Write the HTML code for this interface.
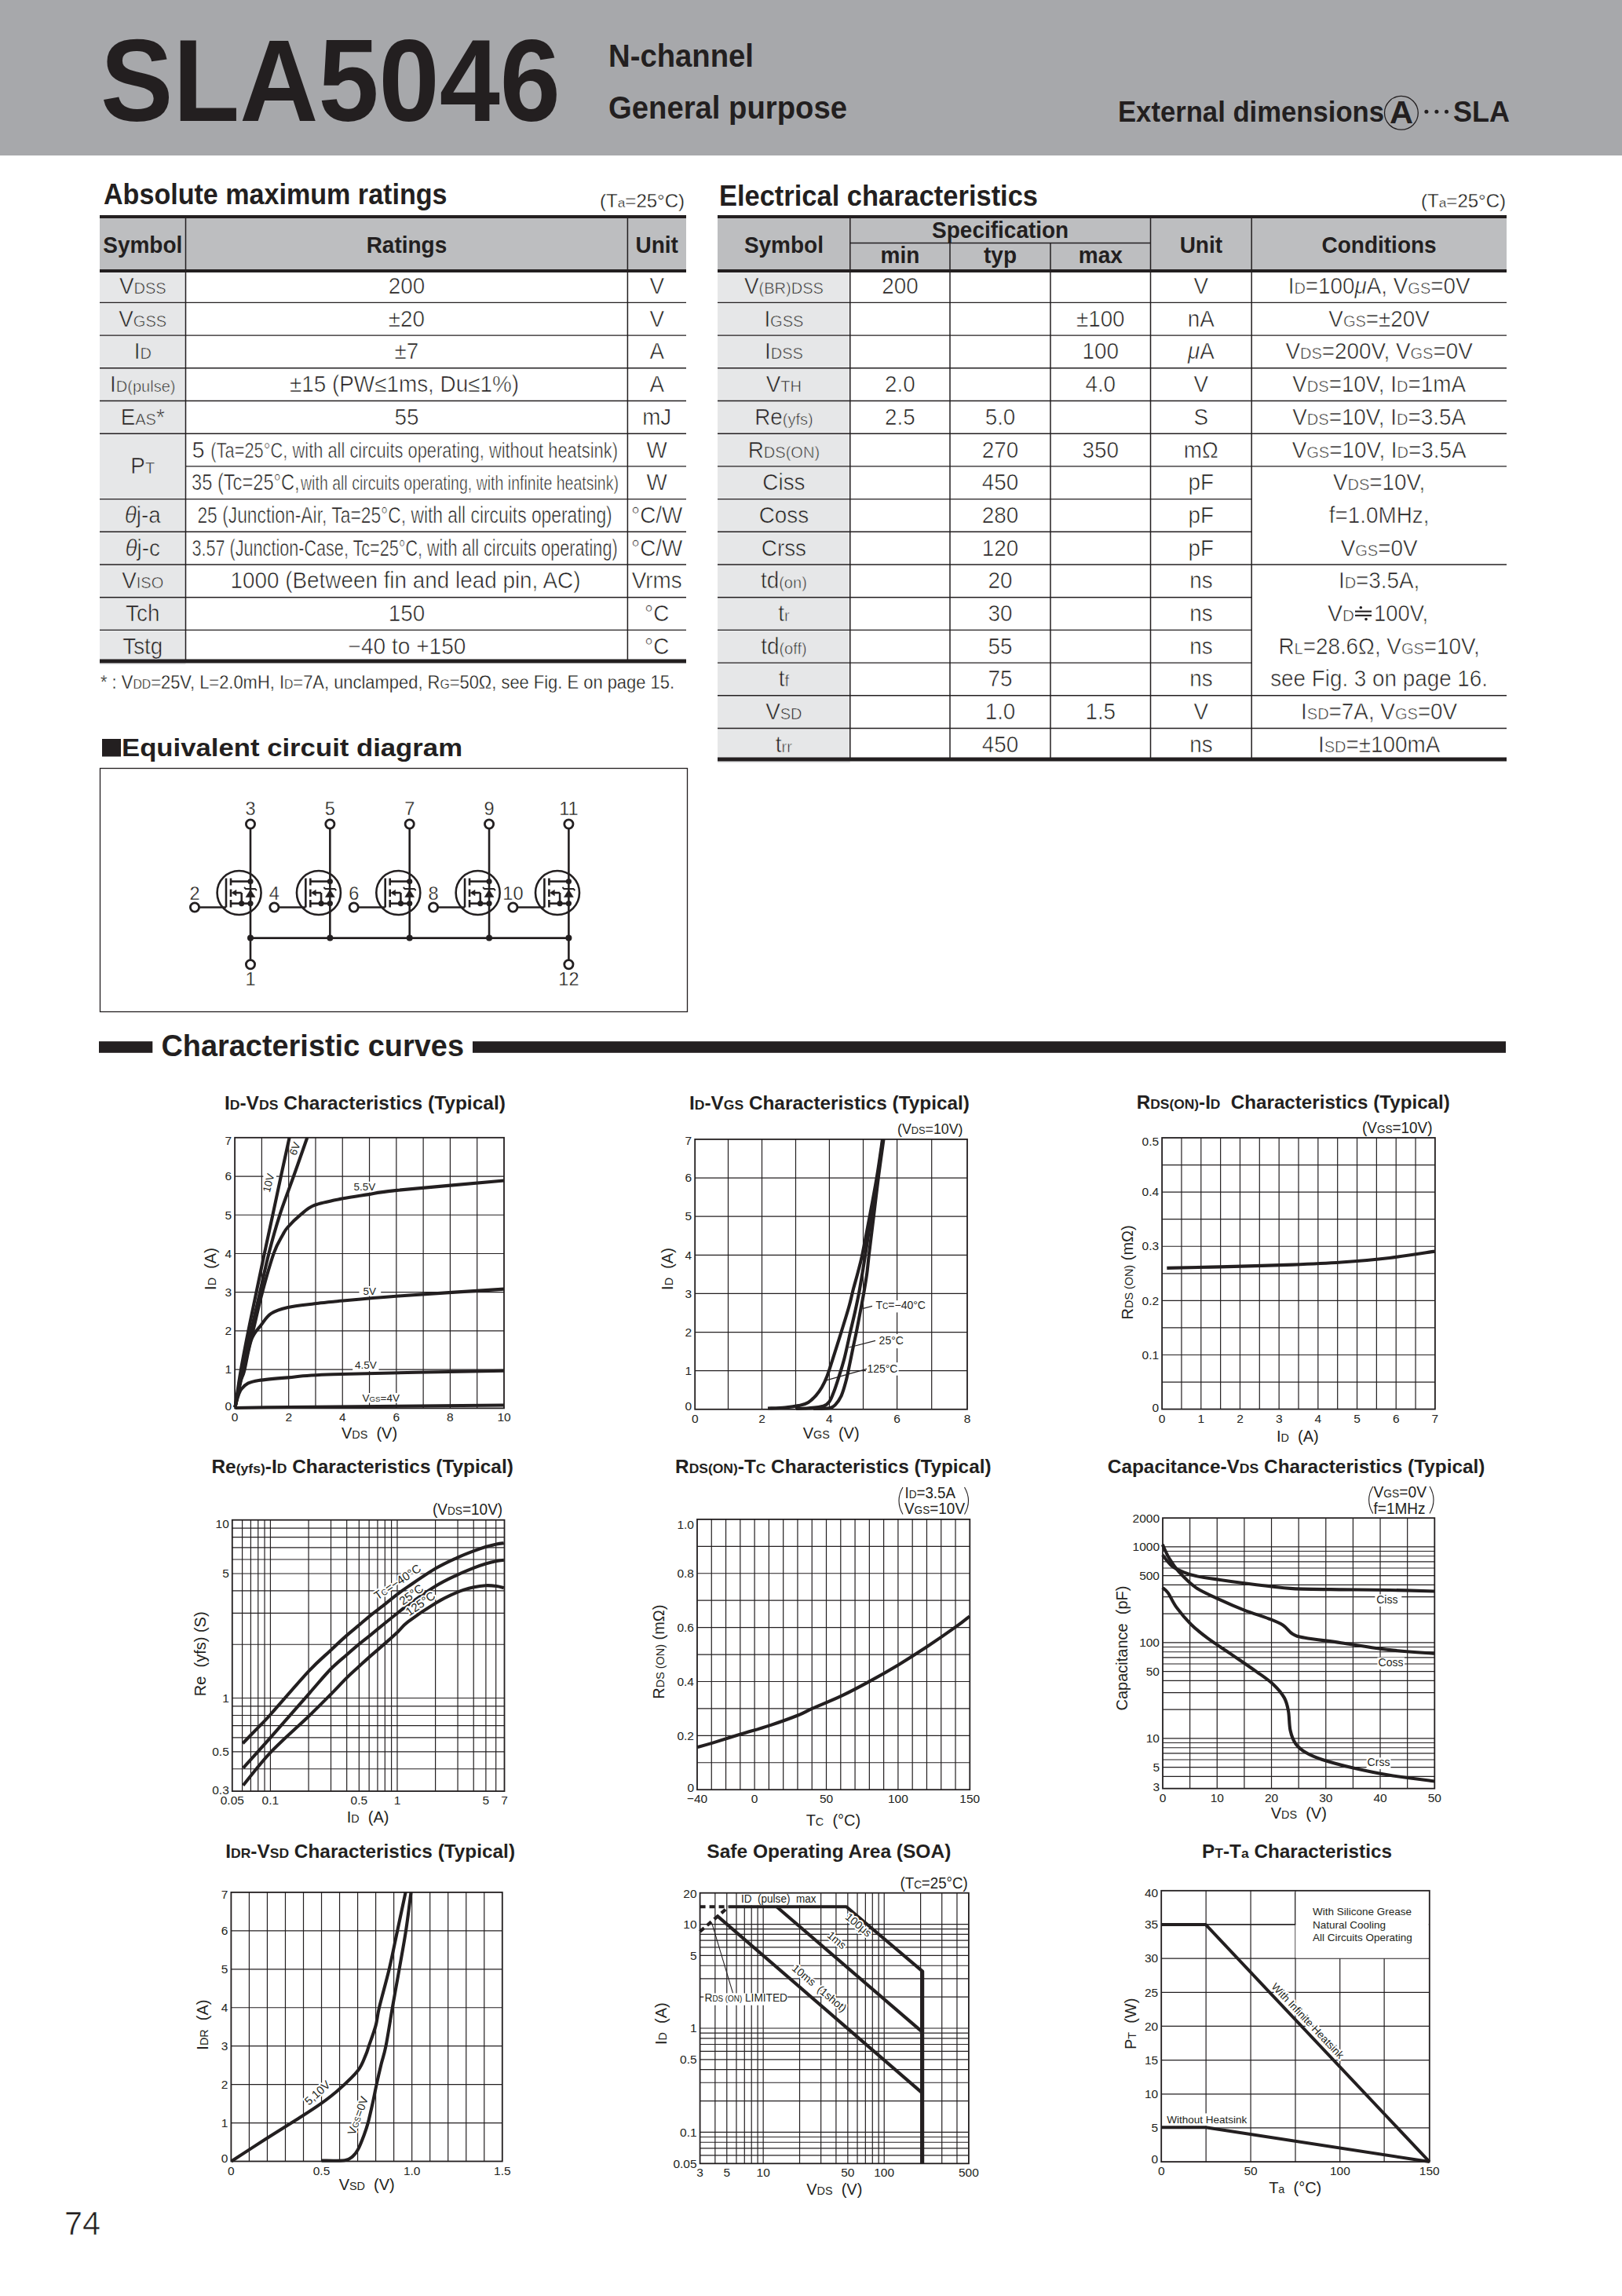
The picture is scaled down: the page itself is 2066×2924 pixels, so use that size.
<!DOCTYPE html><html><head><meta charset="utf-8"><style>html,body{margin:0;padding:0;background:#fff}svg{display:block}text{font-family:"Liberation Sans",sans-serif}</style></head><body><svg width="2066" height="2924" viewBox="0 0 2066 2924"><rect x="0.0" y="0.0" width="2066.0" height="198.0" fill="#a7a8ab"/>
<text x="128.0" y="154.0" font-size="149.00" font-weight="bold" textLength="586.0" lengthAdjust="spacingAndGlyphs" fill="#231f20" >SLA5046</text>
<text x="775.0" y="84.7" font-size="40.20" font-weight="bold" textLength="185.0" lengthAdjust="spacingAndGlyphs" fill="#231f20" >N-channel</text>
<text x="775.0" y="151.0" font-size="40.00" font-weight="bold" textLength="304.0" lengthAdjust="spacingAndGlyphs" fill="#231f20" >General purpose</text>
<text x="1424.0" y="155.0" font-size="36.60" font-weight="bold" textLength="339.0" lengthAdjust="spacingAndGlyphs" fill="#231f20" >External dimensions</text>
<text x="1785.0" y="157.4" font-size="40.00" text-anchor="middle" font-weight="bold" textLength="30.0" lengthAdjust="spacingAndGlyphs" fill="#231f20" >A</text>
<circle cx="1784.9" cy="143.8" r="21.4" fill="none" stroke="#231f20" stroke-width="1.3"/>
<circle cx="1816.9" cy="142.3" r="2.5" fill="#231f20"/>
<circle cx="1829.9" cy="142.3" r="2.5" fill="#231f20"/>
<circle cx="1842.5" cy="142.3" r="2.5" fill="#231f20"/>
<text x="1851.0" y="155.0" font-size="36.60" font-weight="bold" textLength="72.0" lengthAdjust="spacingAndGlyphs" fill="#231f20" >SLA</text>
<text x="132.0" y="260.0" font-size="36.00" font-weight="bold" textLength="437.5" lengthAdjust="spacingAndGlyphs" fill="#231f20" >Absolute maximum ratings</text>
<text x="872.0" y="264.0" font-size="24.00" text-anchor="end" fill="#231f20"  stroke="#fff" stroke-width="0.30">(T<tspan font-size="17.28">a</tspan>=25°C)</text>
<rect x="127.0" y="278.0" width="747.0" height="66.0" fill="#bdbec0"/>
<rect x="127.0" y="346.0" width="109.5" height="500.4" fill="#e6e7e8"/>
<line x1="127.00" y1="276.00" x2="874.00" y2="276.00" stroke="#231f20" stroke-width="4.00" />
<line x1="127.00" y1="345.00" x2="874.00" y2="345.00" stroke="#231f20" stroke-width="4.00" />
<line x1="127.00" y1="385.40" x2="874.00" y2="385.40" stroke="#231f20" stroke-width="1.40" />
<line x1="127.00" y1="427.10" x2="874.00" y2="427.10" stroke="#231f20" stroke-width="1.40" />
<line x1="127.00" y1="468.80" x2="874.00" y2="468.80" stroke="#231f20" stroke-width="1.40" />
<line x1="127.00" y1="510.50" x2="874.00" y2="510.50" stroke="#231f20" stroke-width="1.40" />
<line x1="127.00" y1="552.20" x2="874.00" y2="552.20" stroke="#231f20" stroke-width="1.40" />
<line x1="236.50" y1="593.90" x2="874.00" y2="593.90" stroke="#231f20" stroke-width="1.40" />
<line x1="127.00" y1="635.60" x2="874.00" y2="635.60" stroke="#231f20" stroke-width="1.40" />
<line x1="127.00" y1="677.30" x2="874.00" y2="677.30" stroke="#231f20" stroke-width="1.40" />
<line x1="127.00" y1="719.00" x2="874.00" y2="719.00" stroke="#231f20" stroke-width="1.40" />
<line x1="127.00" y1="760.70" x2="874.00" y2="760.70" stroke="#231f20" stroke-width="1.40" />
<line x1="127.00" y1="802.40" x2="874.00" y2="802.40" stroke="#231f20" stroke-width="1.40" />
<line x1="127.00" y1="842.00" x2="874.00" y2="842.00" stroke="#231f20" stroke-width="5.00" />
<line x1="236.50" y1="278.00" x2="236.50" y2="840.00" stroke="#231f20" stroke-width="1.50" />
<line x1="799.40" y1="278.00" x2="799.40" y2="840.00" stroke="#231f20" stroke-width="1.50" />
<text transform="translate(181.75 322.30) scale(0.9650 1)" font-size="29.00" text-anchor="middle" font-weight="bold" fill="#231f20" >Symbol</text>
<text transform="translate(517.95 322.30) scale(0.9650 1)" font-size="29.00" text-anchor="middle" font-weight="bold" fill="#231f20" >Ratings</text>
<text transform="translate(836.70 322.30) scale(0.9650 1)" font-size="29.00" text-anchor="middle" font-weight="bold" fill="#231f20" >Unit</text>
<text transform="translate(181.75 374.00) scale(0.9600 1)" font-size="29.00" text-anchor="middle" fill="#231f20"  stroke="#e6e7e8" stroke-width="0.60">V<tspan font-size="20.88">DSS</tspan></text>
<text transform="translate(517.95 374.00) scale(0.9600 1)" font-size="29.00" text-anchor="middle" fill="#231f20"  stroke="#fff" stroke-width="0.60">200</text>
<text transform="translate(836.70 374.00) scale(0.9600 1)" font-size="29.00" text-anchor="middle" fill="#231f20"  stroke="#fff" stroke-width="0.60">V</text>
<text transform="translate(181.75 415.70) scale(0.9600 1)" font-size="29.00" text-anchor="middle" fill="#231f20"  stroke="#e6e7e8" stroke-width="0.60">V<tspan font-size="20.88">GSS</tspan></text>
<text transform="translate(517.95 415.70) scale(0.9600 1)" font-size="29.00" text-anchor="middle" fill="#231f20"  stroke="#fff" stroke-width="0.60">±20</text>
<text transform="translate(836.70 415.70) scale(0.9600 1)" font-size="29.00" text-anchor="middle" fill="#231f20"  stroke="#fff" stroke-width="0.60">V</text>
<text transform="translate(181.75 457.40) scale(0.9600 1)" font-size="29.00" text-anchor="middle" fill="#231f20"  stroke="#e6e7e8" stroke-width="0.60">I<tspan font-size="20.88">D</tspan></text>
<text transform="translate(517.95 457.40) scale(0.9600 1)" font-size="29.00" text-anchor="middle" fill="#231f20"  stroke="#fff" stroke-width="0.60">±7</text>
<text transform="translate(836.70 457.40) scale(0.9600 1)" font-size="29.00" text-anchor="middle" fill="#231f20"  stroke="#fff" stroke-width="0.60">A</text>
<text transform="translate(181.75 499.10) scale(0.9600 1)" font-size="29.00" text-anchor="middle" fill="#231f20"  stroke="#e6e7e8" stroke-width="0.60">I<tspan font-size="20.88">D(pulse)</tspan></text>
<text x="369.0" y="499.1" font-size="29.00" textLength="292.0" lengthAdjust="spacingAndGlyphs" fill="#231f20"  stroke="#fff" stroke-width="0.60">±15 (PW≤1ms, Du≤1%)</text>
<text transform="translate(836.70 499.10) scale(0.9600 1)" font-size="29.00" text-anchor="middle" fill="#231f20"  stroke="#fff" stroke-width="0.60">A</text>
<text transform="translate(181.75 540.80) scale(0.9600 1)" font-size="29.00" text-anchor="middle" fill="#231f20"  stroke="#e6e7e8" stroke-width="0.60">E<tspan font-size="20.88">AS</tspan>*</text>
<text transform="translate(517.95 540.80) scale(0.9600 1)" font-size="29.00" text-anchor="middle" fill="#231f20"  stroke="#fff" stroke-width="0.60">55</text>
<text transform="translate(836.70 540.80) scale(0.9600 1)" font-size="29.00" text-anchor="middle" fill="#231f20"  stroke="#fff" stroke-width="0.60">mJ</text>
<text x="244.5" y="582.5" font-size="29.00" fill="#231f20"  stroke="#fff" stroke-width="0.60">5</text>
<text x="268.3" y="582.5" font-size="27.00" textLength="518.7" lengthAdjust="spacingAndGlyphs" fill="#231f20"  stroke="#fff" stroke-width="0.60">(Ta=25°C, with all circuits operating, without heatsink)</text>
<text transform="translate(836.70 582.50) scale(0.9600 1)" font-size="29.00" text-anchor="middle" fill="#231f20"  stroke="#fff" stroke-width="0.60">W</text>
<text x="244.0" y="624.2" font-size="29.00" textLength="137.7" lengthAdjust="spacingAndGlyphs" fill="#231f20"  stroke="#fff" stroke-width="0.60">35 (Tc=25°C,</text>
<text x="383.0" y="624.2" font-size="26.00" textLength="405.0" lengthAdjust="spacingAndGlyphs" fill="#231f20"  stroke="#fff" stroke-width="0.60">with all circuits operating, with infinite heatsink)</text>
<text transform="translate(836.70 624.20) scale(0.9600 1)" font-size="29.00" text-anchor="middle" fill="#231f20"  stroke="#fff" stroke-width="0.60">W</text>
<text transform="translate(181.75 665.90) scale(0.9600 1)" font-size="29.00" text-anchor="middle" fill="#231f20"  stroke="#e6e7e8" stroke-width="0.60"><tspan font-style="italic">θ</tspan>j-a</text>
<text x="251.4" y="665.9" font-size="29.00" textLength="528.3" lengthAdjust="spacingAndGlyphs" fill="#231f20"  stroke="#fff" stroke-width="0.60">25 (Junction-Air, Ta=25°C, with all circuits operating)</text>
<text transform="translate(836.70 665.90) scale(0.9600 1)" font-size="29.00" text-anchor="middle" fill="#231f20"  stroke="#fff" stroke-width="0.60">°C/W</text>
<text transform="translate(181.75 707.60) scale(0.9600 1)" font-size="29.00" text-anchor="middle" fill="#231f20"  stroke="#e6e7e8" stroke-width="0.60"><tspan font-style="italic">θ</tspan>j-c</text>
<text x="244.5" y="707.6" font-size="29.00" textLength="542.1" lengthAdjust="spacingAndGlyphs" fill="#231f20"  stroke="#fff" stroke-width="0.60">3.57 (Junction-Case, Tc=25°C, with all circuits operating)</text>
<text transform="translate(836.70 707.60) scale(0.9600 1)" font-size="29.00" text-anchor="middle" fill="#231f20"  stroke="#fff" stroke-width="0.60">°C/W</text>
<text transform="translate(181.75 749.30) scale(0.9600 1)" font-size="29.00" text-anchor="middle" fill="#231f20"  stroke="#e6e7e8" stroke-width="0.60">V<tspan font-size="20.88">ISO</tspan></text>
<text x="293.5" y="749.3" font-size="29.00" textLength="446.0" lengthAdjust="spacingAndGlyphs" fill="#231f20"  stroke="#fff" stroke-width="0.60">1000 (Between fin and lead pin, AC)</text>
<text transform="translate(836.70 749.30) scale(0.9600 1)" font-size="29.00" text-anchor="middle" fill="#231f20"  stroke="#fff" stroke-width="0.60">Vrms</text>
<text transform="translate(181.75 791.00) scale(0.9600 1)" font-size="29.00" text-anchor="middle" fill="#231f20"  stroke="#e6e7e8" stroke-width="0.60">Tch</text>
<text transform="translate(517.95 791.00) scale(0.9600 1)" font-size="29.00" text-anchor="middle" fill="#231f20"  stroke="#fff" stroke-width="0.60">150</text>
<text transform="translate(836.70 791.00) scale(0.9600 1)" font-size="29.00" text-anchor="middle" fill="#231f20"  stroke="#fff" stroke-width="0.60">°C</text>
<text transform="translate(181.75 832.70) scale(0.9600 1)" font-size="29.00" text-anchor="middle" fill="#231f20"  stroke="#e6e7e8" stroke-width="0.60">Tstg</text>
<text x="443.5" y="832.7" font-size="29.00" textLength="150.0" lengthAdjust="spacingAndGlyphs" fill="#231f20"  stroke="#fff" stroke-width="0.60">−40 to +150</text>
<text transform="translate(836.70 832.70) scale(0.9600 1)" font-size="29.00" text-anchor="middle" fill="#231f20"  stroke="#fff" stroke-width="0.60">°C</text>
<text transform="translate(181.75 603.35) scale(0.9600 1)" font-size="29.00" text-anchor="middle" fill="#231f20"  stroke="#e6e7e8" stroke-width="0.60">P<tspan font-size="20.88">T</tspan></text>
<text x="128.0" y="877.0" font-size="24.00" textLength="731.0" lengthAdjust="spacingAndGlyphs" fill="#231f20"  stroke="#fff" stroke-width="0.30">* : V<tspan font-size="17.28">DD</tspan>=25V, L=2.0mH, I<tspan font-size="17.28">D</tspan>=7A, unclamped, R<tspan font-size="17.28">G</tspan>=50Ω, see Fig. E on page 15.</text>
<text x="916.0" y="262.0" font-size="36.00" font-weight="bold" textLength="406.0" lengthAdjust="spacingAndGlyphs" fill="#231f20" >Electrical characteristics</text>
<text x="1918.0" y="264.0" font-size="24.00" text-anchor="end" fill="#231f20"  stroke="#fff" stroke-width="0.30">(T<tspan font-size="17.28">a</tspan>=25°C)</text>
<rect x="914.0" y="278.0" width="1005.0" height="66.0" fill="#bdbec0"/>
<rect x="914.0" y="346.0" width="168.8" height="625.5" fill="#e6e7e8"/>
<line x1="914.00" y1="276.00" x2="1919.00" y2="276.00" stroke="#231f20" stroke-width="4.00" />
<line x1="914.00" y1="345.00" x2="1919.00" y2="345.00" stroke="#231f20" stroke-width="4.00" />
<line x1="1082.80" y1="309.50" x2="1465.50" y2="309.50" stroke="#231f20" stroke-width="1.40" />
<line x1="914.00" y1="385.40" x2="1919.00" y2="385.40" stroke="#231f20" stroke-width="1.40" />
<line x1="914.00" y1="427.10" x2="1919.00" y2="427.10" stroke="#231f20" stroke-width="1.40" />
<line x1="914.00" y1="468.80" x2="1919.00" y2="468.80" stroke="#231f20" stroke-width="1.40" />
<line x1="914.00" y1="510.50" x2="1919.00" y2="510.50" stroke="#231f20" stroke-width="1.40" />
<line x1="914.00" y1="552.20" x2="1919.00" y2="552.20" stroke="#231f20" stroke-width="1.40" />
<line x1="914.00" y1="593.90" x2="1919.00" y2="593.90" stroke="#231f20" stroke-width="1.40" />
<line x1="914.00" y1="635.60" x2="1594.20" y2="635.60" stroke="#231f20" stroke-width="1.40" />
<line x1="914.00" y1="677.30" x2="1594.20" y2="677.30" stroke="#231f20" stroke-width="1.40" />
<line x1="914.00" y1="719.00" x2="1919.00" y2="719.00" stroke="#231f20" stroke-width="1.40" />
<line x1="914.00" y1="760.70" x2="1594.20" y2="760.70" stroke="#231f20" stroke-width="1.40" />
<line x1="914.00" y1="802.40" x2="1594.20" y2="802.40" stroke="#231f20" stroke-width="1.40" />
<line x1="914.00" y1="844.10" x2="1594.20" y2="844.10" stroke="#231f20" stroke-width="1.40" />
<line x1="914.00" y1="885.80" x2="1919.00" y2="885.80" stroke="#231f20" stroke-width="1.40" />
<line x1="914.00" y1="927.50" x2="1919.00" y2="927.50" stroke="#231f20" stroke-width="1.40" />
<line x1="914.00" y1="967.00" x2="1919.00" y2="967.00" stroke="#231f20" stroke-width="5.00" />
<line x1="1082.80" y1="278.00" x2="1082.80" y2="965.00" stroke="#231f20" stroke-width="1.50" />
<line x1="1210.00" y1="309.50" x2="1210.00" y2="965.00" stroke="#231f20" stroke-width="1.50" />
<line x1="1338.00" y1="309.50" x2="1338.00" y2="965.00" stroke="#231f20" stroke-width="1.50" />
<line x1="1465.50" y1="278.00" x2="1465.50" y2="965.00" stroke="#231f20" stroke-width="1.50" />
<line x1="1594.20" y1="278.00" x2="1594.20" y2="965.00" stroke="#231f20" stroke-width="1.50" />
<text transform="translate(998.40 322.30) scale(0.9650 1)" font-size="29.00" text-anchor="middle" font-weight="bold" fill="#231f20" >Symbol</text>
<text transform="translate(1274.15 303.00) scale(0.9650 1)" font-size="29.00" text-anchor="middle" font-weight="bold" fill="#231f20" >Specification</text>
<text transform="translate(1146.40 335.00) scale(0.9650 1)" font-size="29.00" text-anchor="middle" font-weight="bold" fill="#231f20" >min</text>
<text transform="translate(1274.00 335.00) scale(0.9650 1)" font-size="29.00" text-anchor="middle" font-weight="bold" fill="#231f20" >typ</text>
<text transform="translate(1401.75 335.00) scale(0.9650 1)" font-size="29.00" text-anchor="middle" font-weight="bold" fill="#231f20" >max</text>
<text transform="translate(1529.85 322.30) scale(0.9650 1)" font-size="29.00" text-anchor="middle" font-weight="bold" fill="#231f20" >Unit</text>
<text transform="translate(1756.60 322.30) scale(0.9650 1)" font-size="29.00" text-anchor="middle" font-weight="bold" fill="#231f20" >Conditions</text>
<text transform="translate(998.40 374.00) scale(0.9600 1)" font-size="29.00" text-anchor="middle" fill="#231f20"  stroke="#e6e7e8" stroke-width="0.60">V<tspan font-size="20.88">(BR)DSS</tspan></text>
<text transform="translate(1146.40 374.00) scale(0.9600 1)" font-size="29.00" text-anchor="middle" fill="#231f20"  stroke="#fff" stroke-width="0.60">200</text>
<text transform="translate(1529.85 374.00) scale(0.9600 1)" font-size="29.00" text-anchor="middle" fill="#231f20"  stroke="#fff" stroke-width="0.60">V</text>
<text transform="translate(1756.60 374.00) scale(0.9600 1)" font-size="29.00" text-anchor="middle" fill="#231f20"  stroke="#fff" stroke-width="0.60">I<tspan font-size="20.88">D</tspan>=100<tspan font-style="italic">μ</tspan>A, V<tspan font-size="20.88">GS</tspan>=0V</text>
<text transform="translate(998.40 415.70) scale(0.9600 1)" font-size="29.00" text-anchor="middle" fill="#231f20"  stroke="#e6e7e8" stroke-width="0.60">I<tspan font-size="20.88">GSS</tspan></text>
<text transform="translate(1401.75 415.70) scale(0.9600 1)" font-size="29.00" text-anchor="middle" fill="#231f20"  stroke="#fff" stroke-width="0.60">±100</text>
<text transform="translate(1529.85 415.70) scale(0.9600 1)" font-size="29.00" text-anchor="middle" fill="#231f20"  stroke="#fff" stroke-width="0.60">nA</text>
<text transform="translate(1756.60 415.70) scale(0.9600 1)" font-size="29.00" text-anchor="middle" fill="#231f20"  stroke="#fff" stroke-width="0.60">V<tspan font-size="20.88">GS</tspan>=±20V</text>
<text transform="translate(998.40 457.40) scale(0.9600 1)" font-size="29.00" text-anchor="middle" fill="#231f20"  stroke="#e6e7e8" stroke-width="0.60">I<tspan font-size="20.88">DSS</tspan></text>
<text transform="translate(1401.75 457.40) scale(0.9600 1)" font-size="29.00" text-anchor="middle" fill="#231f20"  stroke="#fff" stroke-width="0.60">100</text>
<text transform="translate(1529.85 457.40) scale(0.9600 1)" font-size="29.00" text-anchor="middle" fill="#231f20"  stroke="#fff" stroke-width="0.60"><tspan font-style="italic">μ</tspan>A</text>
<text transform="translate(1756.60 457.40) scale(0.9600 1)" font-size="29.00" text-anchor="middle" fill="#231f20"  stroke="#fff" stroke-width="0.60">V<tspan font-size="20.88">DS</tspan>=200V, V<tspan font-size="20.88">GS</tspan>=0V</text>
<text transform="translate(998.40 499.10) scale(0.9600 1)" font-size="29.00" text-anchor="middle" fill="#231f20"  stroke="#e6e7e8" stroke-width="0.60">V<tspan font-size="20.88">TH</tspan></text>
<text transform="translate(1146.40 499.10) scale(0.9600 1)" font-size="29.00" text-anchor="middle" fill="#231f20"  stroke="#fff" stroke-width="0.60">2.0</text>
<text transform="translate(1401.75 499.10) scale(0.9600 1)" font-size="29.00" text-anchor="middle" fill="#231f20"  stroke="#fff" stroke-width="0.60">4.0</text>
<text transform="translate(1529.85 499.10) scale(0.9600 1)" font-size="29.00" text-anchor="middle" fill="#231f20"  stroke="#fff" stroke-width="0.60">V</text>
<text transform="translate(1756.60 499.10) scale(0.9600 1)" font-size="29.00" text-anchor="middle" fill="#231f20"  stroke="#fff" stroke-width="0.60">V<tspan font-size="20.88">DS</tspan>=10V, I<tspan font-size="20.88">D</tspan>=1mA</text>
<text transform="translate(998.40 540.80) scale(0.9600 1)" font-size="29.00" text-anchor="middle" fill="#231f20"  stroke="#e6e7e8" stroke-width="0.60">Re<tspan font-size="20.88">(yfs)</tspan></text>
<text transform="translate(1146.40 540.80) scale(0.9600 1)" font-size="29.00" text-anchor="middle" fill="#231f20"  stroke="#fff" stroke-width="0.60">2.5</text>
<text transform="translate(1274.00 540.80) scale(0.9600 1)" font-size="29.00" text-anchor="middle" fill="#231f20"  stroke="#fff" stroke-width="0.60">5.0</text>
<text transform="translate(1529.85 540.80) scale(0.9600 1)" font-size="29.00" text-anchor="middle" fill="#231f20"  stroke="#fff" stroke-width="0.60">S</text>
<text transform="translate(1756.60 540.80) scale(0.9600 1)" font-size="29.00" text-anchor="middle" fill="#231f20"  stroke="#fff" stroke-width="0.60">V<tspan font-size="20.88">DS</tspan>=10V, I<tspan font-size="20.88">D</tspan>=3.5A</text>
<text transform="translate(998.40 582.50) scale(0.9600 1)" font-size="29.00" text-anchor="middle" fill="#231f20"  stroke="#e6e7e8" stroke-width="0.60">R<tspan font-size="20.88">DS(ON)</tspan></text>
<text transform="translate(1274.00 582.50) scale(0.9600 1)" font-size="29.00" text-anchor="middle" fill="#231f20"  stroke="#fff" stroke-width="0.60">270</text>
<text transform="translate(1401.75 582.50) scale(0.9600 1)" font-size="29.00" text-anchor="middle" fill="#231f20"  stroke="#fff" stroke-width="0.60">350</text>
<text transform="translate(1529.85 582.50) scale(0.9600 1)" font-size="29.00" text-anchor="middle" fill="#231f20"  stroke="#fff" stroke-width="0.60">mΩ</text>
<text transform="translate(1756.60 582.50) scale(0.9600 1)" font-size="29.00" text-anchor="middle" fill="#231f20"  stroke="#fff" stroke-width="0.60">V<tspan font-size="20.88">GS</tspan>=10V, I<tspan font-size="20.88">D</tspan>=3.5A</text>
<text transform="translate(998.40 624.20) scale(0.9600 1)" font-size="29.00" text-anchor="middle" fill="#231f20"  stroke="#e6e7e8" stroke-width="0.60">Ciss</text>
<text transform="translate(1274.00 624.20) scale(0.9600 1)" font-size="29.00" text-anchor="middle" fill="#231f20"  stroke="#fff" stroke-width="0.60">450</text>
<text transform="translate(1529.85 624.20) scale(0.9600 1)" font-size="29.00" text-anchor="middle" fill="#231f20"  stroke="#fff" stroke-width="0.60">pF</text>
<text transform="translate(1756.60 624.20) scale(0.9600 1)" font-size="29.00" text-anchor="middle" fill="#231f20"  stroke="#fff" stroke-width="0.60">V<tspan font-size="20.88">DS</tspan>=10V,</text>
<text transform="translate(998.40 665.90) scale(0.9600 1)" font-size="29.00" text-anchor="middle" fill="#231f20"  stroke="#e6e7e8" stroke-width="0.60">Coss</text>
<text transform="translate(1274.00 665.90) scale(0.9600 1)" font-size="29.00" text-anchor="middle" fill="#231f20"  stroke="#fff" stroke-width="0.60">280</text>
<text transform="translate(1529.85 665.90) scale(0.9600 1)" font-size="29.00" text-anchor="middle" fill="#231f20"  stroke="#fff" stroke-width="0.60">pF</text>
<text transform="translate(1756.60 665.90) scale(0.9600 1)" font-size="29.00" text-anchor="middle" fill="#231f20"  stroke="#fff" stroke-width="0.60">f=1.0MHz,</text>
<text transform="translate(998.40 707.60) scale(0.9600 1)" font-size="29.00" text-anchor="middle" fill="#231f20"  stroke="#e6e7e8" stroke-width="0.60">Crss</text>
<text transform="translate(1274.00 707.60) scale(0.9600 1)" font-size="29.00" text-anchor="middle" fill="#231f20"  stroke="#fff" stroke-width="0.60">120</text>
<text transform="translate(1529.85 707.60) scale(0.9600 1)" font-size="29.00" text-anchor="middle" fill="#231f20"  stroke="#fff" stroke-width="0.60">pF</text>
<text transform="translate(1756.60 707.60) scale(0.9600 1)" font-size="29.00" text-anchor="middle" fill="#231f20"  stroke="#fff" stroke-width="0.60">V<tspan font-size="20.88">GS</tspan>=0V</text>
<text transform="translate(998.40 749.30) scale(0.9600 1)" font-size="29.00" text-anchor="middle" fill="#231f20"  stroke="#e6e7e8" stroke-width="0.60">td<tspan font-size="20.88">(on)</tspan></text>
<text transform="translate(1274.00 749.30) scale(0.9600 1)" font-size="29.00" text-anchor="middle" fill="#231f20"  stroke="#fff" stroke-width="0.60">20</text>
<text transform="translate(1529.85 749.30) scale(0.9600 1)" font-size="29.00" text-anchor="middle" fill="#231f20"  stroke="#fff" stroke-width="0.60">ns</text>
<text transform="translate(1756.60 749.30) scale(0.9600 1)" font-size="29.00" text-anchor="middle" fill="#231f20"  stroke="#fff" stroke-width="0.60">I<tspan font-size="20.88">D</tspan>=3.5A,</text>
<text transform="translate(998.40 791.00) scale(0.9600 1)" font-size="29.00" text-anchor="middle" fill="#231f20"  stroke="#e6e7e8" stroke-width="0.60">t<tspan font-size="20.88">r</tspan></text>
<text transform="translate(1274.00 791.00) scale(0.9600 1)" font-size="29.00" text-anchor="middle" fill="#231f20"  stroke="#fff" stroke-width="0.60">30</text>
<text transform="translate(1529.85 791.00) scale(0.9600 1)" font-size="29.00" text-anchor="middle" fill="#231f20"  stroke="#fff" stroke-width="0.60">ns</text>
<text transform="translate(998.40 832.70) scale(0.9600 1)" font-size="29.00" text-anchor="middle" fill="#231f20"  stroke="#e6e7e8" stroke-width="0.60">td<tspan font-size="20.88">(off)</tspan></text>
<text transform="translate(1274.00 832.70) scale(0.9600 1)" font-size="29.00" text-anchor="middle" fill="#231f20"  stroke="#fff" stroke-width="0.60">55</text>
<text transform="translate(1529.85 832.70) scale(0.9600 1)" font-size="29.00" text-anchor="middle" fill="#231f20"  stroke="#fff" stroke-width="0.60">ns</text>
<text transform="translate(1756.60 832.70) scale(0.9600 1)" font-size="29.00" text-anchor="middle" fill="#231f20"  stroke="#fff" stroke-width="0.60">R<tspan font-size="20.88">L</tspan>=28.6Ω, V<tspan font-size="20.88">GS</tspan>=10V,</text>
<text transform="translate(998.40 874.40) scale(0.9600 1)" font-size="29.00" text-anchor="middle" fill="#231f20"  stroke="#e6e7e8" stroke-width="0.60">t<tspan font-size="20.88">f</tspan></text>
<text transform="translate(1274.00 874.40) scale(0.9600 1)" font-size="29.00" text-anchor="middle" fill="#231f20"  stroke="#fff" stroke-width="0.60">75</text>
<text transform="translate(1529.85 874.40) scale(0.9600 1)" font-size="29.00" text-anchor="middle" fill="#231f20"  stroke="#fff" stroke-width="0.60">ns</text>
<text transform="translate(1756.60 874.40) scale(0.9600 1)" font-size="29.00" text-anchor="middle" fill="#231f20"  stroke="#fff" stroke-width="0.60">see Fig. 3 on page 16.</text>
<text transform="translate(998.40 916.10) scale(0.9600 1)" font-size="29.00" text-anchor="middle" fill="#231f20"  stroke="#e6e7e8" stroke-width="0.60">V<tspan font-size="20.88">SD</tspan></text>
<text transform="translate(1274.00 916.10) scale(0.9600 1)" font-size="29.00" text-anchor="middle" fill="#231f20"  stroke="#fff" stroke-width="0.60">1.0</text>
<text transform="translate(1401.75 916.10) scale(0.9600 1)" font-size="29.00" text-anchor="middle" fill="#231f20"  stroke="#fff" stroke-width="0.60">1.5</text>
<text transform="translate(1529.85 916.10) scale(0.9600 1)" font-size="29.00" text-anchor="middle" fill="#231f20"  stroke="#fff" stroke-width="0.60">V</text>
<text transform="translate(1756.60 916.10) scale(0.9600 1)" font-size="29.00" text-anchor="middle" fill="#231f20"  stroke="#fff" stroke-width="0.60">I<tspan font-size="20.88">SD</tspan>=7A, V<tspan font-size="20.88">GS</tspan>=0V</text>
<text transform="translate(998.40 957.80) scale(0.9600 1)" font-size="29.00" text-anchor="middle" fill="#231f20"  stroke="#e6e7e8" stroke-width="0.60">t<tspan font-size="20.88">rr</tspan></text>
<text transform="translate(1274.00 957.80) scale(0.9600 1)" font-size="29.00" text-anchor="middle" fill="#231f20"  stroke="#fff" stroke-width="0.60">450</text>
<text transform="translate(1529.85 957.80) scale(0.9600 1)" font-size="29.00" text-anchor="middle" fill="#231f20"  stroke="#fff" stroke-width="0.60">ns</text>
<text transform="translate(1756.60 957.80) scale(0.9600 1)" font-size="29.00" text-anchor="middle" fill="#231f20"  stroke="#fff" stroke-width="0.60">I<tspan font-size="20.88">SD</tspan>=±100mA</text>
<text x="1691.0" y="790.7" font-size="29.00" textLength="34.0" lengthAdjust="spacingAndGlyphs" fill="#231f20"  stroke="#fff" stroke-width="0.60">V<tspan font-size="20.88">D</tspan></text>
<rect x="1726.0" y="777.6" width="21.0" height="2.1" fill="#231f20"/>
<rect x="1726.0" y="782.8" width="21.0" height="2.1" fill="#231f20"/>
<circle cx="1733.3" cy="773.8" r="1.8" fill="#231f20"/>
<circle cx="1740" cy="788.6" r="1.8" fill="#231f20"/>
<text x="1750.0" y="790.7" font-size="29.00" textLength="69.0" lengthAdjust="spacingAndGlyphs" fill="#231f20"  stroke="#fff" stroke-width="0.60">100V,</text>
<rect x="130.0" y="941.0" width="24.0" height="22.5" fill="#231f20"/>
<text x="155.0" y="963.3" font-size="32.00" font-weight="bold" textLength="434.0" lengthAdjust="spacingAndGlyphs" fill="#231f20" >Equivalent circuit diagram</text>
<rect x="127.5" y="978.5" width="748" height="310" fill="none" stroke="#231f20" stroke-width="1.3"/>
<g stroke="#231f20" fill="#231f20"><circle cx="304.60" cy="1137" r="28" fill="none" stroke-width="2.6"/><circle cx="319.00" cy="1049.5" r="5.6" fill="#fff" stroke-width="2.8"/><line x1="319.00" y1="1055.10" x2="319.00" y2="1194.60" stroke-width="2.60"/><circle cx="248.00" cy="1155.5" r="5.6" fill="#fff" stroke-width="2.8"/><line x1="253.60" y1="1155.50" x2="288.00" y2="1155.50" stroke-width="2.60"/><line x1="288.00" y1="1118.50" x2="288.00" y2="1155.50" stroke-width="2.60"/><line x1="294.00" y1="1118.50" x2="294.00" y2="1127.50" stroke-width="2.60"/><line x1="294.00" y1="1132.50" x2="294.00" y2="1142.00" stroke-width="2.60"/><line x1="294.00" y1="1146.00" x2="294.00" y2="1155.50" stroke-width="2.60"/><line x1="294.00" y1="1122.50" x2="319.00" y2="1122.50" stroke-width="2.60"/><line x1="294.00" y1="1150.60" x2="319.00" y2="1150.60" stroke-width="2.60"/><line x1="297.00" y1="1137.00" x2="307.70" y2="1137.00" stroke-width="2.60"/><line x1="307.70" y1="1137.00" x2="307.70" y2="1150.60" stroke-width="2.60"/><path d="M295.00 1137 l6 -3.8 v7.6z" stroke-width="0.5"/><circle cx="319.00" cy="1122.50" r="3.6" stroke="none"/><circle cx="307.70" cy="1150.60" r="3.6" stroke="none"/><circle cx="319.00" cy="1150.60" r="3.6" stroke="none"/><path d="M313.00 1142.5 L319.00 1133 L325.00 1142.5z" stroke-width="0.5"/><path d="M311.00 1130 L313.00 1132 L325.00 1132 L327.00 1134" fill="none" stroke-width="1.8"/><circle cx="319.00" cy="1194.6" r="4" stroke="none"/></g>
<text x="319.0" y="1037.7" font-size="23.50" text-anchor="middle" fill="#231f20"  stroke="#fff" stroke-width="0.30">3</text>
<text x="248.0" y="1145.6" font-size="23.50" text-anchor="middle" fill="#231f20"  stroke="#fff" stroke-width="0.30">2</text>
<g stroke="#231f20" fill="#231f20"><circle cx="405.95" cy="1137" r="28" fill="none" stroke-width="2.6"/><circle cx="420.35" cy="1049.5" r="5.6" fill="#fff" stroke-width="2.8"/><line x1="420.35" y1="1055.10" x2="420.35" y2="1194.60" stroke-width="2.60"/><circle cx="349.35" cy="1155.5" r="5.6" fill="#fff" stroke-width="2.8"/><line x1="354.95" y1="1155.50" x2="389.35" y2="1155.50" stroke-width="2.60"/><line x1="389.35" y1="1118.50" x2="389.35" y2="1155.50" stroke-width="2.60"/><line x1="395.35" y1="1118.50" x2="395.35" y2="1127.50" stroke-width="2.60"/><line x1="395.35" y1="1132.50" x2="395.35" y2="1142.00" stroke-width="2.60"/><line x1="395.35" y1="1146.00" x2="395.35" y2="1155.50" stroke-width="2.60"/><line x1="395.35" y1="1122.50" x2="420.35" y2="1122.50" stroke-width="2.60"/><line x1="395.35" y1="1150.60" x2="420.35" y2="1150.60" stroke-width="2.60"/><line x1="398.35" y1="1137.00" x2="409.05" y2="1137.00" stroke-width="2.60"/><line x1="409.05" y1="1137.00" x2="409.05" y2="1150.60" stroke-width="2.60"/><path d="M396.35 1137 l6 -3.8 v7.6z" stroke-width="0.5"/><circle cx="420.35" cy="1122.50" r="3.6" stroke="none"/><circle cx="409.05" cy="1150.60" r="3.6" stroke="none"/><circle cx="420.35" cy="1150.60" r="3.6" stroke="none"/><path d="M414.35 1142.5 L420.35 1133 L426.35 1142.5z" stroke-width="0.5"/><path d="M412.35 1130 L414.35 1132 L426.35 1132 L428.35 1134" fill="none" stroke-width="1.8"/><circle cx="420.35" cy="1194.6" r="4" stroke="none"/></g>
<text x="420.4" y="1037.7" font-size="23.50" text-anchor="middle" fill="#231f20"  stroke="#fff" stroke-width="0.30">5</text>
<text x="349.4" y="1145.6" font-size="23.50" text-anchor="middle" fill="#231f20"  stroke="#fff" stroke-width="0.30">4</text>
<g stroke="#231f20" fill="#231f20"><circle cx="507.30" cy="1137" r="28" fill="none" stroke-width="2.6"/><circle cx="521.70" cy="1049.5" r="5.6" fill="#fff" stroke-width="2.8"/><line x1="521.70" y1="1055.10" x2="521.70" y2="1194.60" stroke-width="2.60"/><circle cx="450.70" cy="1155.5" r="5.6" fill="#fff" stroke-width="2.8"/><line x1="456.30" y1="1155.50" x2="490.70" y2="1155.50" stroke-width="2.60"/><line x1="490.70" y1="1118.50" x2="490.70" y2="1155.50" stroke-width="2.60"/><line x1="496.70" y1="1118.50" x2="496.70" y2="1127.50" stroke-width="2.60"/><line x1="496.70" y1="1132.50" x2="496.70" y2="1142.00" stroke-width="2.60"/><line x1="496.70" y1="1146.00" x2="496.70" y2="1155.50" stroke-width="2.60"/><line x1="496.70" y1="1122.50" x2="521.70" y2="1122.50" stroke-width="2.60"/><line x1="496.70" y1="1150.60" x2="521.70" y2="1150.60" stroke-width="2.60"/><line x1="499.70" y1="1137.00" x2="510.40" y2="1137.00" stroke-width="2.60"/><line x1="510.40" y1="1137.00" x2="510.40" y2="1150.60" stroke-width="2.60"/><path d="M497.70 1137 l6 -3.8 v7.6z" stroke-width="0.5"/><circle cx="521.70" cy="1122.50" r="3.6" stroke="none"/><circle cx="510.40" cy="1150.60" r="3.6" stroke="none"/><circle cx="521.70" cy="1150.60" r="3.6" stroke="none"/><path d="M515.70 1142.5 L521.70 1133 L527.70 1142.5z" stroke-width="0.5"/><path d="M513.70 1130 L515.70 1132 L527.70 1132 L529.70 1134" fill="none" stroke-width="1.8"/><circle cx="521.70" cy="1194.6" r="4" stroke="none"/></g>
<text x="521.7" y="1037.7" font-size="23.50" text-anchor="middle" fill="#231f20"  stroke="#fff" stroke-width="0.30">7</text>
<text x="450.7" y="1145.6" font-size="23.50" text-anchor="middle" fill="#231f20"  stroke="#fff" stroke-width="0.30">6</text>
<g stroke="#231f20" fill="#231f20"><circle cx="608.65" cy="1137" r="28" fill="none" stroke-width="2.6"/><circle cx="623.05" cy="1049.5" r="5.6" fill="#fff" stroke-width="2.8"/><line x1="623.05" y1="1055.10" x2="623.05" y2="1194.60" stroke-width="2.60"/><circle cx="552.05" cy="1155.5" r="5.6" fill="#fff" stroke-width="2.8"/><line x1="557.65" y1="1155.50" x2="592.05" y2="1155.50" stroke-width="2.60"/><line x1="592.05" y1="1118.50" x2="592.05" y2="1155.50" stroke-width="2.60"/><line x1="598.05" y1="1118.50" x2="598.05" y2="1127.50" stroke-width="2.60"/><line x1="598.05" y1="1132.50" x2="598.05" y2="1142.00" stroke-width="2.60"/><line x1="598.05" y1="1146.00" x2="598.05" y2="1155.50" stroke-width="2.60"/><line x1="598.05" y1="1122.50" x2="623.05" y2="1122.50" stroke-width="2.60"/><line x1="598.05" y1="1150.60" x2="623.05" y2="1150.60" stroke-width="2.60"/><line x1="601.05" y1="1137.00" x2="611.75" y2="1137.00" stroke-width="2.60"/><line x1="611.75" y1="1137.00" x2="611.75" y2="1150.60" stroke-width="2.60"/><path d="M599.05 1137 l6 -3.8 v7.6z" stroke-width="0.5"/><circle cx="623.05" cy="1122.50" r="3.6" stroke="none"/><circle cx="611.75" cy="1150.60" r="3.6" stroke="none"/><circle cx="623.05" cy="1150.60" r="3.6" stroke="none"/><path d="M617.05 1142.5 L623.05 1133 L629.05 1142.5z" stroke-width="0.5"/><path d="M615.05 1130 L617.05 1132 L629.05 1132 L631.05 1134" fill="none" stroke-width="1.8"/><circle cx="623.05" cy="1194.6" r="4" stroke="none"/></g>
<text x="623.0" y="1037.7" font-size="23.50" text-anchor="middle" fill="#231f20"  stroke="#fff" stroke-width="0.30">9</text>
<text x="552.0" y="1145.6" font-size="23.50" text-anchor="middle" fill="#231f20"  stroke="#fff" stroke-width="0.30">8</text>
<g stroke="#231f20" fill="#231f20"><circle cx="710.00" cy="1137" r="28" fill="none" stroke-width="2.6"/><circle cx="724.40" cy="1049.5" r="5.6" fill="#fff" stroke-width="2.8"/><line x1="724.40" y1="1055.10" x2="724.40" y2="1194.60" stroke-width="2.60"/><circle cx="653.40" cy="1155.5" r="5.6" fill="#fff" stroke-width="2.8"/><line x1="659.00" y1="1155.50" x2="693.40" y2="1155.50" stroke-width="2.60"/><line x1="693.40" y1="1118.50" x2="693.40" y2="1155.50" stroke-width="2.60"/><line x1="699.40" y1="1118.50" x2="699.40" y2="1127.50" stroke-width="2.60"/><line x1="699.40" y1="1132.50" x2="699.40" y2="1142.00" stroke-width="2.60"/><line x1="699.40" y1="1146.00" x2="699.40" y2="1155.50" stroke-width="2.60"/><line x1="699.40" y1="1122.50" x2="724.40" y2="1122.50" stroke-width="2.60"/><line x1="699.40" y1="1150.60" x2="724.40" y2="1150.60" stroke-width="2.60"/><line x1="702.40" y1="1137.00" x2="713.10" y2="1137.00" stroke-width="2.60"/><line x1="713.10" y1="1137.00" x2="713.10" y2="1150.60" stroke-width="2.60"/><path d="M700.40 1137 l6 -3.8 v7.6z" stroke-width="0.5"/><circle cx="724.40" cy="1122.50" r="3.6" stroke="none"/><circle cx="713.10" cy="1150.60" r="3.6" stroke="none"/><circle cx="724.40" cy="1150.60" r="3.6" stroke="none"/><path d="M718.40 1142.5 L724.40 1133 L730.40 1142.5z" stroke-width="0.5"/><path d="M716.40 1130 L718.40 1132 L730.40 1132 L732.40 1134" fill="none" stroke-width="1.8"/><circle cx="724.40" cy="1194.6" r="4" stroke="none"/></g>
<text x="724.4" y="1037.7" font-size="23.50" text-anchor="middle" fill="#231f20"  stroke="#fff" stroke-width="0.30">11</text>
<text x="653.4" y="1145.6" font-size="23.50" text-anchor="middle" fill="#231f20"  stroke="#fff" stroke-width="0.30">10</text>
<line x1="319.00" y1="1194.60" x2="724.40" y2="1194.60" stroke="#231f20" stroke-width="2.60" />
<line x1="319.00" y1="1194.60" x2="319.00" y2="1222.60" stroke="#231f20" stroke-width="2.60" />
<line x1="724.40" y1="1194.60" x2="724.40" y2="1222.60" stroke="#231f20" stroke-width="2.60" />
<circle cx="319" cy="1228.2" r="5.6" fill="#fff" stroke="#231f20" stroke-width="2.8"/>
<circle cx="724.4" cy="1228.2" r="5.6" fill="#fff" stroke="#231f20" stroke-width="2.8"/>
<text x="319.0" y="1255.0" font-size="23.50" text-anchor="middle" fill="#231f20"  stroke="#fff" stroke-width="0.30">1</text>
<text x="724.4" y="1255.0" font-size="23.50" text-anchor="middle" fill="#231f20"  stroke="#fff" stroke-width="0.30">12</text>
<rect x="126.0" y="1326.2" width="68.3" height="14.6" fill="#231f20"/>
<text x="205.4" y="1345.0" font-size="38.00" font-weight="bold" textLength="385.6" lengthAdjust="spacingAndGlyphs" fill="#231f20" >Characteristic curves</text>
<rect x="602.0" y="1326.2" width="1316.0" height="14.6" fill="#231f20"/>
<text x="82.0" y="2845.8" font-size="42.00" textLength="46.0" lengthAdjust="spacingAndGlyphs" fill="#231f20"  stroke="#fff" stroke-width="0.60">74</text>
<text x="285.9" y="1412.5" font-size="24.00" font-weight="bold" textLength="358.0" lengthAdjust="spacingAndGlyphs" fill="#231f20" >I<tspan font-size="17.28">D</tspan>-V<tspan font-size="17.28">DS</tspan> Characteristics (Typical)</text>
<g stroke="#231f20" stroke-width="1.20"><line x1="333.39" y1="1448.80" x2="333.39" y2="1793.40"/><line x1="367.68" y1="1448.80" x2="367.68" y2="1793.40"/><line x1="401.97" y1="1448.80" x2="401.97" y2="1793.40"/><line x1="436.26" y1="1448.80" x2="436.26" y2="1793.40"/><line x1="470.55" y1="1448.80" x2="470.55" y2="1793.40"/><line x1="504.84" y1="1448.80" x2="504.84" y2="1793.40"/><line x1="539.13" y1="1448.80" x2="539.13" y2="1793.40"/><line x1="573.42" y1="1448.80" x2="573.42" y2="1793.40"/><line x1="607.71" y1="1448.80" x2="607.71" y2="1793.40"/><line x1="299.10" y1="1744.17" x2="642.00" y2="1744.17"/><line x1="299.10" y1="1694.94" x2="642.00" y2="1694.94"/><line x1="299.10" y1="1645.71" x2="642.00" y2="1645.71"/><line x1="299.10" y1="1596.49" x2="642.00" y2="1596.49"/><line x1="299.10" y1="1547.26" x2="642.00" y2="1547.26"/><line x1="299.10" y1="1498.03" x2="642.00" y2="1498.03"/></g>
<rect x="335.4" y="1493.7" width="16.6" height="27.7" fill="#fff"/>
<rect x="370.1" y="1454.9" width="15.3" height="19.4" fill="#fff"/>
<rect x="449.2" y="1504.8" width="30.5" height="13.9" fill="#fff"/>
<rect x="457.5" y="1638.0" width="27.7" height="12.5" fill="#fff"/>
<rect x="449.2" y="1733.7" width="33.3" height="12.5" fill="#fff"/>
<rect x="460.3" y="1774.0" width="49.9" height="12.5" fill="#fff"/>
<rect x="299.10" y="1448.80" width="342.90" height="344.60" fill="none" stroke="#231f20" stroke-width="1.80"/>
<path d="M299.50,1793.00 L340.00,1792.20 L642.00,1789.50" fill="none" stroke="#231f20" stroke-width="4.10" stroke-linejoin="round" />
<path d="M299.50,1792.00 C299.80,1790.78 300.55,1787.37 301.30,1784.70 C302.05,1782.03 302.97,1778.62 304.00,1776.00 C305.03,1773.38 305.52,1771.38 307.50,1769.00 C309.48,1766.62 312.23,1763.53 315.90,1761.70 C319.57,1759.87 321.05,1759.22 329.50,1758.00 C337.95,1756.78 350.75,1755.70 366.60,1754.40 C382.45,1753.10 378.70,1751.65 424.60,1750.20 C470.50,1748.75 605.77,1746.45 642.00,1745.70" fill="none" stroke="#231f20" stroke-width="4.10" stroke-linejoin="round" />
<path d="M299.50,1792.00 C300.58,1786.67 304.08,1767.58 306.00,1760.00 C307.92,1752.42 308.65,1755.45 311.00,1746.50 C313.35,1737.55 316.50,1716.13 320.10,1706.30 C323.70,1696.47 328.42,1693.07 332.60,1687.50 C336.78,1681.93 339.53,1676.65 345.20,1672.90 C350.87,1669.15 357.38,1667.10 366.60,1665.00 C375.82,1662.90 390.83,1661.52 400.50,1660.30 C410.17,1659.08 406.78,1659.33 424.60,1657.70 C442.42,1656.07 471.17,1653.18 507.40,1650.50 C543.63,1647.82 619.57,1643.08 642.00,1641.60" fill="none" stroke="#231f20" stroke-width="4.10" stroke-linejoin="round" />
<path d="M299.50,1792.00 C301.17,1784.42 305.75,1762.45 309.50,1746.50 C313.25,1730.55 317.92,1713.02 322.00,1696.30 C326.08,1679.58 329.53,1662.93 334.00,1646.20 C338.47,1629.47 344.47,1608.12 348.80,1595.90 C353.13,1583.68 357.07,1578.38 360.00,1572.90 C362.93,1567.42 362.62,1567.28 366.40,1563.00 C370.18,1558.72 377.03,1551.88 382.70,1547.20 C388.37,1542.52 391.60,1538.35 400.40,1534.90 C409.20,1531.45 423.98,1528.80 435.50,1526.50 C447.02,1524.20 458.17,1522.83 469.50,1521.10 C480.83,1519.37 474.75,1519.03 503.50,1516.10 C532.25,1513.17 618.92,1505.60 642.00,1503.50" fill="none" stroke="#231f20" stroke-width="4.10" stroke-linejoin="round" />
<path d="M299.50,1792.00 C301.00,1784.42 305.17,1762.45 308.50,1746.50 C311.83,1730.55 315.75,1713.02 319.50,1696.30 C323.25,1679.58 327.17,1662.93 331.00,1646.20 C334.83,1629.47 338.27,1612.42 342.50,1595.90 C346.73,1579.38 351.17,1563.37 356.40,1547.10 C361.63,1530.83 368.08,1514.68 373.90,1498.30 C379.72,1481.92 388.40,1457.05 391.30,1448.80" fill="none" stroke="#231f20" stroke-width="4.10" stroke-linejoin="round" />
<path d="M299.50,1792.00 C300.67,1784.42 303.75,1762.45 306.50,1746.50 C309.25,1730.55 312.68,1713.02 316.00,1696.30 C319.32,1679.58 322.92,1662.93 326.40,1646.20 C329.88,1629.47 333.40,1612.42 336.90,1595.90 C340.40,1579.38 343.92,1563.37 347.40,1547.10 C350.88,1530.83 354.27,1514.68 357.80,1498.30 C361.33,1481.92 366.80,1457.05 368.60,1448.80" fill="none" stroke="#231f20" stroke-width="4.10" stroke-linejoin="round" />
<text x="295.1" y="1795.8" font-size="15.50" text-anchor="end" fill="#231f20" >0</text>
<text x="295.1" y="1749.4" font-size="15.50" text-anchor="end" fill="#231f20" >1</text>
<text x="295.1" y="1700.1" font-size="15.50" text-anchor="end" fill="#231f20" >2</text>
<text x="295.1" y="1650.9" font-size="15.50" text-anchor="end" fill="#231f20" >3</text>
<text x="295.1" y="1601.7" font-size="15.50" text-anchor="end" fill="#231f20" >4</text>
<text x="295.1" y="1552.5" font-size="15.50" text-anchor="end" fill="#231f20" >5</text>
<text x="295.1" y="1503.2" font-size="15.50" text-anchor="end" fill="#231f20" >6</text>
<text x="295.1" y="1457.9" font-size="15.50" text-anchor="end" fill="#231f20" >7</text>
<text x="299.1" y="1810.4" font-size="15.50" text-anchor="middle" fill="#231f20" >0</text>
<text x="367.7" y="1810.4" font-size="15.50" text-anchor="middle" fill="#231f20" >2</text>
<text x="436.3" y="1810.4" font-size="15.50" text-anchor="middle" fill="#231f20" >4</text>
<text x="504.8" y="1810.4" font-size="15.50" text-anchor="middle" fill="#231f20" >6</text>
<text x="573.4" y="1810.4" font-size="15.50" text-anchor="middle" fill="#231f20" >8</text>
<text x="642.0" y="1810.4" font-size="15.50" text-anchor="middle" fill="#231f20" >10</text>
<text x="470.5" y="1831.8" font-size="20.00" text-anchor="middle" fill="#231f20" >V<tspan font-size="14.40">DS</tspan>  (V)</text>
<g transform="translate(275.00,1616.00) rotate(-90)">
<text x="0.0" y="0.0" font-size="20.00" text-anchor="middle" fill="#231f20" >I<tspan font-size="14.40">D</tspan>  (A)</text>
</g>
<g transform="translate(346.52,1507.62) rotate(-75.00)">
<text x="0.0" y="0.0" font-size="13.50" text-anchor="middle" fill="#231f20" >10V</text>
</g>
<g transform="translate(379.82,1464.62) rotate(-68.00)">
<text x="0.0" y="0.0" font-size="13.50" text-anchor="middle" fill="#231f20" >6V</text>
</g>
<text x="464.4" y="1515.9" font-size="13.50" text-anchor="middle" fill="#231f20" >5.5V</text>
<text x="470.8" y="1649.1" font-size="13.50" text-anchor="middle" fill="#231f20" >5V</text>
<text x="465.8" y="1743.4" font-size="13.50" text-anchor="middle" fill="#231f20" >4.5V</text>
<text x="485.2" y="1784.5" font-size="13.50" text-anchor="middle" fill="#231f20" >V<tspan font-size="9.72">GS</tspan>=4V</text>
<text x="878.1" y="1412.5" font-size="24.00" font-weight="bold" textLength="356.8" lengthAdjust="spacingAndGlyphs" fill="#231f20" >I<tspan font-size="17.28">D</tspan>-V<tspan font-size="17.28">GS</tspan> Characteristics (Typical)</text>
<text x="1143.0" y="1443.9" font-size="18.80" textLength="83.5" lengthAdjust="spacingAndGlyphs" fill="#231f20" >(V<tspan font-size="13.54">DS</tspan>=10V)</text>
<g stroke="#231f20" stroke-width="1.20"><line x1="927.50" y1="1450.90" x2="927.50" y2="1794.80"/><line x1="970.50" y1="1450.90" x2="970.50" y2="1794.80"/><line x1="1013.50" y1="1450.90" x2="1013.50" y2="1794.80"/><line x1="1056.40" y1="1450.90" x2="1056.40" y2="1794.80"/><line x1="1099.50" y1="1450.90" x2="1099.50" y2="1794.80"/><line x1="1142.60" y1="1450.90" x2="1142.60" y2="1794.80"/><line x1="1186.70" y1="1450.90" x2="1186.70" y2="1794.80"/><line x1="885.20" y1="1745.67" x2="1232.00" y2="1745.67"/><line x1="885.20" y1="1696.54" x2="1232.00" y2="1696.54"/><line x1="885.20" y1="1647.41" x2="1232.00" y2="1647.41"/><line x1="885.20" y1="1598.29" x2="1232.00" y2="1598.29"/><line x1="885.20" y1="1549.16" x2="1232.00" y2="1549.16"/><line x1="885.20" y1="1500.03" x2="1232.00" y2="1500.03"/></g>
<rect x="1112.7" y="1656.1" width="65.2" height="15.3" fill="#fff"/>
<rect x="1116.9" y="1699.1" width="34.7" height="18.0" fill="#fff"/>
<rect x="1103.0" y="1735.1" width="41.6" height="16.6" fill="#fff"/>
<rect x="885.20" y="1450.90" width="346.80" height="343.90" fill="none" stroke="#231f20" stroke-width="1.80"/>
<path d="M978.00,1793.50 C981.67,1793.33 993.00,1793.17 1000.00,1792.50 C1007.00,1791.83 1015.07,1790.60 1020.00,1789.50 C1024.93,1788.40 1026.40,1787.93 1029.60,1785.90 C1032.80,1783.87 1036.33,1780.48 1039.20,1777.30 C1042.07,1774.12 1044.42,1770.95 1046.80,1766.80 C1049.18,1762.65 1051.27,1758.15 1053.50,1752.40 C1055.73,1746.65 1057.17,1741.72 1060.20,1732.30 C1063.23,1722.88 1068.18,1707.23 1071.70,1695.90 C1075.22,1684.57 1078.75,1673.40 1081.30,1664.30 C1083.85,1655.20 1085.08,1648.65 1087.00,1641.30 C1088.92,1633.95 1090.88,1627.62 1092.80,1620.20 C1094.72,1612.78 1095.97,1608.88 1098.50,1596.80 C1101.03,1584.72 1104.92,1564.13 1108.00,1547.70 C1111.08,1531.27 1114.33,1514.32 1117.00,1498.20 C1119.67,1482.08 1122.83,1458.87 1124.00,1451.00" fill="none" stroke="#231f20" stroke-width="4.10" stroke-linejoin="round" />
<path d="M1014.00,1794.00 C1016.67,1793.88 1024.22,1793.85 1030.00,1793.30 C1035.78,1792.75 1044.30,1792.08 1048.70,1790.70 C1053.10,1789.32 1054.17,1788.03 1056.40,1785.00 C1058.63,1781.97 1060.18,1777.45 1062.10,1772.50 C1064.02,1767.55 1065.65,1762.48 1067.90,1755.30 C1070.15,1748.12 1073.05,1739.30 1075.60,1729.40 C1078.15,1719.50 1080.97,1705.63 1083.20,1695.90 C1085.43,1686.17 1087.17,1679.30 1089.00,1671.00 C1090.83,1662.70 1092.65,1654.25 1094.20,1646.10 C1095.75,1637.95 1096.93,1630.32 1098.30,1622.10 C1099.67,1613.88 1100.45,1609.20 1102.40,1596.80 C1104.35,1584.40 1107.40,1564.13 1110.00,1547.70 C1112.60,1531.27 1115.58,1514.32 1118.00,1498.20 C1120.42,1482.08 1123.42,1458.87 1124.50,1451.00" fill="none" stroke="#231f20" stroke-width="4.10" stroke-linejoin="round" />
<path d="M1036.00,1794.00 C1039.40,1793.88 1051.72,1794.17 1056.40,1793.30 C1061.08,1792.43 1061.55,1791.47 1064.10,1788.80 C1066.65,1786.13 1069.47,1782.25 1071.70,1777.30 C1073.93,1772.35 1075.73,1765.80 1077.50,1759.10 C1079.27,1752.40 1080.72,1744.60 1082.30,1737.10 C1083.88,1729.60 1085.57,1720.97 1087.00,1714.10 C1088.43,1707.23 1089.30,1703.88 1090.90,1695.90 C1092.50,1687.92 1095.00,1674.67 1096.60,1666.20 C1098.20,1657.73 1099.22,1652.60 1100.50,1645.10 C1101.78,1637.60 1103.22,1629.25 1104.30,1621.20 C1105.38,1613.15 1105.55,1609.05 1107.00,1596.80 C1108.45,1584.55 1111.00,1564.13 1113.00,1547.70 C1115.00,1531.27 1116.92,1514.32 1119.00,1498.20 C1121.08,1482.08 1124.42,1458.87 1125.50,1451.00" fill="none" stroke="#231f20" stroke-width="4.10" stroke-linejoin="round" />
<path d="M1098.50,1666.70 L1111.00,1663.30" fill="none" stroke="#231f20" stroke-width="1.20" stroke-linejoin="round" />
<path d="M1081.30,1716.00 L1115.00,1707.40" fill="none" stroke="#231f20" stroke-width="1.20" stroke-linejoin="round" />
<path d="M1051.60,1758.20 L1104.00,1743.40" fill="none" stroke="#231f20" stroke-width="1.20" stroke-linejoin="round" />
<text x="881.2" y="1796.4" font-size="15.50" text-anchor="end" fill="#231f20" >0</text>
<text x="881.2" y="1750.9" font-size="15.50" text-anchor="end" fill="#231f20" >1</text>
<text x="881.2" y="1701.7" font-size="15.50" text-anchor="end" fill="#231f20" >2</text>
<text x="881.2" y="1652.6" font-size="15.50" text-anchor="end" fill="#231f20" >3</text>
<text x="881.2" y="1603.5" font-size="15.50" text-anchor="end" fill="#231f20" >4</text>
<text x="881.2" y="1554.4" font-size="15.50" text-anchor="end" fill="#231f20" >5</text>
<text x="881.2" y="1505.2" font-size="15.50" text-anchor="end" fill="#231f20" >6</text>
<text x="881.2" y="1458.1" font-size="15.50" text-anchor="end" fill="#231f20" >7</text>
<text x="885.2" y="1811.8" font-size="15.50" text-anchor="middle" fill="#231f20" >0</text>
<text x="970.5" y="1811.8" font-size="15.50" text-anchor="middle" fill="#231f20" >2</text>
<text x="1056.4" y="1811.8" font-size="15.50" text-anchor="middle" fill="#231f20" >4</text>
<text x="1142.6" y="1811.8" font-size="15.50" text-anchor="middle" fill="#231f20" >6</text>
<text x="1232.0" y="1811.8" font-size="15.50" text-anchor="middle" fill="#231f20" >8</text>
<text x="1058.6" y="1831.8" font-size="20.00" text-anchor="middle" fill="#231f20" >V<tspan font-size="14.40">GS</tspan>  (V)</text>
<g transform="translate(857.00,1616.00) rotate(-90)">
<text x="0.0" y="0.0" font-size="20.00" text-anchor="middle" fill="#231f20" >I<tspan font-size="14.40">D</tspan>  (A)</text>
</g>
<text x="1115.5" y="1667.1" font-size="14.00" fill="#231f20" >T<tspan font-size="10.08">C</tspan>=−40°C</text>
<text x="1119.6" y="1712.1" font-size="14.00" fill="#231f20" >25°C</text>
<text x="1104.4" y="1747.6" font-size="14.00" fill="#231f20" >125°C</text>
<text x="1447.8" y="1412.4" font-size="24.00" font-weight="bold" textLength="399.0" lengthAdjust="spacingAndGlyphs" fill="#231f20" >R<tspan font-size="17.28">DS(ON)</tspan>-I<tspan font-size="17.28">D</tspan>  Characteristics (Typical)</text>
<text x="1735.0" y="1443.2" font-size="19.50" textLength="89.5" lengthAdjust="spacingAndGlyphs" fill="#231f20" >(V<tspan font-size="14.04">GS</tspan>=10V)</text>
<g stroke="#231f20" stroke-width="1.20"><line x1="1504.94" y1="1449.00" x2="1504.94" y2="1794.60"/><line x1="1529.79" y1="1449.00" x2="1529.79" y2="1794.60"/><line x1="1554.63" y1="1449.00" x2="1554.63" y2="1794.60"/><line x1="1579.47" y1="1449.00" x2="1579.47" y2="1794.60"/><line x1="1604.31" y1="1449.00" x2="1604.31" y2="1794.60"/><line x1="1629.16" y1="1449.00" x2="1629.16" y2="1794.60"/><line x1="1654.00" y1="1449.00" x2="1654.00" y2="1794.60"/><line x1="1678.84" y1="1449.00" x2="1678.84" y2="1794.60"/><line x1="1703.69" y1="1449.00" x2="1703.69" y2="1794.60"/><line x1="1728.53" y1="1449.00" x2="1728.53" y2="1794.60"/><line x1="1753.37" y1="1449.00" x2="1753.37" y2="1794.60"/><line x1="1778.21" y1="1449.00" x2="1778.21" y2="1794.60"/><line x1="1803.06" y1="1449.00" x2="1803.06" y2="1794.60"/><line x1="1480.10" y1="1760.04" x2="1827.90" y2="1760.04"/><line x1="1480.10" y1="1725.48" x2="1827.90" y2="1725.48"/><line x1="1480.10" y1="1690.92" x2="1827.90" y2="1690.92"/><line x1="1480.10" y1="1656.36" x2="1827.90" y2="1656.36"/><line x1="1480.10" y1="1621.80" x2="1827.90" y2="1621.80"/><line x1="1480.10" y1="1587.24" x2="1827.90" y2="1587.24"/><line x1="1480.10" y1="1552.68" x2="1827.90" y2="1552.68"/><line x1="1480.10" y1="1518.12" x2="1827.90" y2="1518.12"/><line x1="1480.10" y1="1483.56" x2="1827.90" y2="1483.56"/></g>
<rect x="1480.10" y="1449.00" width="347.80" height="345.60" fill="none" stroke="#231f20" stroke-width="1.80"/>
<path d="M1486.31,1614.90 C1497.62,1614.64 1527.41,1614.07 1554.13,1613.35 C1580.85,1612.63 1620.92,1611.56 1646.61,1610.58 C1672.30,1609.60 1687.71,1608.94 1708.26,1607.50 C1728.81,1606.06 1749.98,1604.26 1769.91,1601.95 C1789.85,1599.64 1818.21,1595.01 1827.87,1593.63" fill="none" stroke="#231f20" stroke-width="4.10" stroke-linejoin="round" />
<text x="1476.1" y="1798.3" font-size="15.50" text-anchor="end" fill="#231f20" >0</text>
<text x="1476.1" y="1730.7" font-size="15.50" text-anchor="end" fill="#231f20" >0.1</text>
<text x="1476.1" y="1661.6" font-size="15.50" text-anchor="end" fill="#231f20" >0.2</text>
<text x="1476.1" y="1592.4" font-size="15.50" text-anchor="end" fill="#231f20" >0.3</text>
<text x="1476.1" y="1523.3" font-size="15.50" text-anchor="end" fill="#231f20" >0.4</text>
<text x="1476.1" y="1458.5" font-size="15.50" text-anchor="end" fill="#231f20" >0.5</text>
<text x="1480.1" y="1811.6" font-size="15.50" text-anchor="middle" fill="#231f20" >0</text>
<text x="1529.8" y="1811.6" font-size="15.50" text-anchor="middle" fill="#231f20" >1</text>
<text x="1579.5" y="1811.6" font-size="15.50" text-anchor="middle" fill="#231f20" >2</text>
<text x="1629.2" y="1811.6" font-size="15.50" text-anchor="middle" fill="#231f20" >3</text>
<text x="1678.8" y="1811.6" font-size="15.50" text-anchor="middle" fill="#231f20" >4</text>
<text x="1728.5" y="1811.6" font-size="15.50" text-anchor="middle" fill="#231f20" >5</text>
<text x="1778.2" y="1811.6" font-size="15.50" text-anchor="middle" fill="#231f20" >6</text>
<text x="1827.9" y="1811.6" font-size="15.50" text-anchor="middle" fill="#231f20" >7</text>
<text x="1652.8" y="1835.7" font-size="20.00" text-anchor="middle" fill="#231f20" >I<tspan font-size="14.40">D</tspan>  (A)</text>
<g transform="translate(1443.00,1620.40) rotate(-90)">
<text x="0.0" y="0.0" font-size="20.00" text-anchor="middle" fill="#231f20" >R<tspan font-size="14.40">DS (ON)</tspan> (mΩ)</text>
</g>
<text x="269.5" y="1876.0" font-size="24.00" font-weight="bold" textLength="384.3" lengthAdjust="spacingAndGlyphs" fill="#231f20" >Re<tspan font-size="17.28">(yfs)</tspan>-I<tspan font-size="17.28">D</tspan> Characteristics (Typical)</text>
<text x="551.0" y="1928.9" font-size="20.00" textLength="89.2" lengthAdjust="spacingAndGlyphs" fill="#231f20" >(V<tspan font-size="14.40">DS</tspan>=10V)</text>
<g stroke="#231f20" stroke-width="1.20"><line x1="308.59" y1="1935.70" x2="308.59" y2="2281.10"/><line x1="319.41" y1="1935.70" x2="319.41" y2="2281.10"/><line x1="328.77" y1="1935.70" x2="328.77" y2="2281.10"/><line x1="337.04" y1="1935.70" x2="337.04" y2="2281.10"/><line x1="344.43" y1="1935.70" x2="344.43" y2="2281.10"/><line x1="393.06" y1="1935.70" x2="393.06" y2="2281.10"/><line x1="421.51" y1="1935.70" x2="421.51" y2="2281.10"/><line x1="441.69" y1="1935.70" x2="441.69" y2="2281.10"/><line x1="457.35" y1="1935.70" x2="457.35" y2="2281.10"/><line x1="470.14" y1="1935.70" x2="470.14" y2="2281.10"/><line x1="480.95" y1="1935.70" x2="480.95" y2="2281.10"/><line x1="490.32" y1="1935.70" x2="490.32" y2="2281.10"/><line x1="498.59" y1="1935.70" x2="498.59" y2="2281.10"/><line x1="505.98" y1="1935.70" x2="505.98" y2="2281.10"/><line x1="554.61" y1="1935.70" x2="554.61" y2="2281.10"/><line x1="583.05" y1="1935.70" x2="583.05" y2="2281.10"/><line x1="603.24" y1="1935.70" x2="603.24" y2="2281.10"/><line x1="618.89" y1="1935.70" x2="618.89" y2="2281.10"/><line x1="631.68" y1="1935.70" x2="631.68" y2="2281.10"/><line x1="295.80" y1="2252.76" x2="642.50" y2="2252.76"/><line x1="295.80" y1="2230.78" x2="642.50" y2="2230.78"/><line x1="295.80" y1="2212.82" x2="642.50" y2="2212.82"/><line x1="295.80" y1="2197.64" x2="642.50" y2="2197.64"/><line x1="295.80" y1="2184.49" x2="642.50" y2="2184.49"/><line x1="295.80" y1="2172.89" x2="642.50" y2="2172.89"/><line x1="295.80" y1="2162.51" x2="642.50" y2="2162.51"/><line x1="295.80" y1="2094.23" x2="642.50" y2="2094.23"/><line x1="295.80" y1="2054.29" x2="642.50" y2="2054.29"/><line x1="295.80" y1="2025.96" x2="642.50" y2="2025.96"/><line x1="295.80" y1="2003.98" x2="642.50" y2="2003.98"/><line x1="295.80" y1="1986.02" x2="642.50" y2="1986.02"/><line x1="295.80" y1="1970.83" x2="642.50" y2="1970.83"/><line x1="295.80" y1="1957.68" x2="642.50" y2="1957.68"/><line x1="295.80" y1="1946.08" x2="642.50" y2="1946.08"/></g>
<rect x="295.80" y="1935.70" width="346.70" height="345.40" fill="none" stroke="#231f20" stroke-width="1.80"/>
<path d="M309.20,2220.20 C312.42,2216.88 322.62,2206.42 328.50,2200.30 C334.38,2194.18 333.68,2195.52 344.50,2183.50 C355.32,2171.48 380.75,2141.72 393.40,2128.20 C406.05,2114.68 412.38,2109.95 420.40,2102.40 C428.42,2094.85 435.50,2088.23 441.50,2082.90 C447.50,2077.57 451.55,2074.50 456.40,2070.40 C461.25,2066.30 464.92,2062.90 470.60,2058.30 C476.28,2053.70 484.48,2047.53 490.50,2042.80 C496.52,2038.07 501.78,2033.63 506.70,2029.90 C511.62,2026.17 511.87,2025.87 520.00,2020.40 C528.13,2014.93 545.13,2003.20 555.50,1997.10 C565.87,1991.00 574.17,1987.47 582.20,1983.80 C590.23,1980.13 597.65,1977.40 603.70,1975.10 C609.75,1972.80 613.68,1971.43 618.50,1970.00 C623.32,1968.57 628.72,1967.30 632.60,1966.50 C636.48,1965.70 640.27,1965.42 641.80,1965.20" fill="none" stroke="#231f20" stroke-width="4.10" stroke-linejoin="round" />
<path d="M309.70,2251.70 C315.50,2245.23 330.50,2228.72 344.50,2212.90 C358.50,2197.08 381.05,2171.20 393.70,2156.80 C406.35,2142.40 412.43,2134.72 420.40,2126.50 C428.37,2118.28 435.50,2112.82 441.50,2107.50 C447.50,2102.18 451.55,2098.62 456.40,2094.60 C461.25,2090.58 464.92,2088.00 470.60,2083.40 C476.28,2078.80 484.48,2071.90 490.50,2067.00 C496.52,2062.10 501.78,2057.88 506.70,2054.00 C511.62,2050.12 511.87,2049.43 520.00,2043.70 C528.13,2037.97 545.13,2025.92 555.50,2019.60 C565.87,2013.28 574.17,2009.62 582.20,2005.80 C590.23,2001.98 597.65,1999.08 603.70,1996.70 C609.75,1994.32 613.68,1992.93 618.50,1991.50 C623.32,1990.07 628.72,1988.88 632.60,1988.10 C636.48,1987.32 640.27,1987.02 641.80,1986.80" fill="none" stroke="#231f20" stroke-width="4.10" stroke-linejoin="round" />
<path d="M309.70,2273.70 C315.50,2266.72 330.50,2246.55 344.50,2231.80 C358.50,2217.05 381.02,2197.42 393.70,2185.20 C406.38,2172.98 412.63,2166.55 420.60,2158.50 C428.57,2150.45 435.53,2142.80 441.50,2136.90 C447.47,2131.00 451.55,2127.57 456.40,2123.10 C461.25,2118.63 464.92,2115.13 470.60,2110.10 C476.28,2105.07 484.48,2098.22 490.50,2092.90 C496.52,2087.58 501.78,2082.82 506.70,2078.20 C511.62,2073.58 511.87,2071.37 520.00,2065.20 C528.13,2059.03 545.13,2047.43 555.50,2041.20 C565.87,2034.97 574.17,2031.12 582.20,2027.80 C590.23,2024.48 597.65,2022.73 603.70,2021.30 C609.75,2019.87 613.68,2019.42 618.50,2019.20 C623.32,2018.98 628.72,2019.50 632.60,2020.00 C636.48,2020.50 640.27,2021.83 641.80,2022.20" fill="none" stroke="#231f20" stroke-width="4.10" stroke-linejoin="round" />
<text x="291.8" y="1946.4" font-size="15.50" text-anchor="end" fill="#231f20" >10</text>
<text x="291.8" y="2009.2" font-size="15.50" text-anchor="end" fill="#231f20" >5</text>
<text x="291.8" y="2167.7" font-size="15.50" text-anchor="end" fill="#231f20" >1</text>
<text x="291.8" y="2236.0" font-size="15.50" text-anchor="end" fill="#231f20" >0.5</text>
<text x="291.8" y="2285.1" font-size="15.50" text-anchor="end" fill="#231f20" >0.3</text>
<text x="295.8" y="2298.1" font-size="15.50" text-anchor="middle" fill="#231f20" >0.05</text>
<text x="344.4" y="2298.1" font-size="15.50" text-anchor="middle" fill="#231f20" >0.1</text>
<text x="457.3" y="2298.1" font-size="15.50" text-anchor="middle" fill="#231f20" >0.5</text>
<text x="506.0" y="2298.1" font-size="15.50" text-anchor="middle" fill="#231f20" >1</text>
<text x="618.9" y="2298.1" font-size="15.50" text-anchor="middle" fill="#231f20" >5</text>
<text x="642.5" y="2298.1" font-size="15.50" text-anchor="middle" fill="#231f20" >7</text>
<text x="468.6" y="2321.0" font-size="20.00" text-anchor="middle" fill="#231f20" >I<tspan font-size="14.40">D</tspan>  (A)</text>
<g transform="translate(262.00,2106.30) rotate(-90)">
<text x="0.0" y="0.0" font-size="20.00" text-anchor="middle" fill="#231f20" >Re  (yfs) (S)</text>
</g>
<g transform="translate(509.20,2019.00) rotate(-34.00)">
<text x="0.0" y="0.0" font-size="15.00" text-anchor="middle" fill="#231f20" stroke="#fff" stroke-width="4" paint-order="stroke" stroke-linejoin="round">T<tspan font-size="10.80">C</tspan>=−40°C</text>
</g>
<g transform="translate(526.90,2035.00) rotate(-35.50)">
<text x="0.0" y="0.0" font-size="15.00" text-anchor="middle" fill="#231f20" stroke="#fff" stroke-width="4" paint-order="stroke" stroke-linejoin="round">25°C</text>
</g>
<g transform="translate(538.50,2046.50) rotate(-35.00)">
<text x="0.0" y="0.0" font-size="15.00" text-anchor="middle" fill="#231f20" stroke="#fff" stroke-width="4" paint-order="stroke" stroke-linejoin="round">125°C</text>
</g>
<text x="860.1" y="1876.0" font-size="24.00" font-weight="bold" textLength="402.4" lengthAdjust="spacingAndGlyphs" fill="#231f20" >R<tspan font-size="17.28">DS(ON)</tspan>-T<tspan font-size="17.28">C</tspan> Characteristics (Typical)</text>
<text x="1152.5" y="1907.7" font-size="19.60" textLength="64.5" lengthAdjust="spacingAndGlyphs" fill="#231f20" >I<tspan font-size="14.11">D</tspan>=3.5A</text>
<text x="1152.0" y="1928.4" font-size="19.60" textLength="77.0" lengthAdjust="spacingAndGlyphs" fill="#231f20" >V<tspan font-size="14.11">GS</tspan>=10V</text>
<path d="M1150 1894 Q1140 1911 1150 1928.5" fill="none" stroke="#231f20" stroke-width="1.1"/>
<path d="M1228.5 1894 Q1238.5 1911 1228.5 1928.5" fill="none" stroke="#231f20" stroke-width="1.1"/>
<g stroke="#231f20" stroke-width="1.20"><line x1="906.28" y1="1934.90" x2="906.28" y2="2279.20"/><line x1="924.56" y1="1934.90" x2="924.56" y2="2279.20"/><line x1="942.84" y1="1934.90" x2="942.84" y2="2279.20"/><line x1="961.12" y1="1934.90" x2="961.12" y2="2279.20"/><line x1="979.39" y1="1934.90" x2="979.39" y2="2279.20"/><line x1="997.67" y1="1934.90" x2="997.67" y2="2279.20"/><line x1="1015.95" y1="1934.90" x2="1015.95" y2="2279.20"/><line x1="1034.23" y1="1934.90" x2="1034.23" y2="2279.20"/><line x1="1052.51" y1="1934.90" x2="1052.51" y2="2279.20"/><line x1="1070.79" y1="1934.90" x2="1070.79" y2="2279.20"/><line x1="1089.07" y1="1934.90" x2="1089.07" y2="2279.20"/><line x1="1107.35" y1="1934.90" x2="1107.35" y2="2279.20"/><line x1="1125.63" y1="1934.90" x2="1125.63" y2="2279.20"/><line x1="1143.91" y1="1934.90" x2="1143.91" y2="2279.20"/><line x1="1162.18" y1="1934.90" x2="1162.18" y2="2279.20"/><line x1="1180.46" y1="1934.90" x2="1180.46" y2="2279.20"/><line x1="1198.74" y1="1934.90" x2="1198.74" y2="2279.20"/><line x1="1217.02" y1="1934.90" x2="1217.02" y2="2279.20"/><line x1="888.00" y1="2244.77" x2="1235.30" y2="2244.77"/><line x1="888.00" y1="2210.34" x2="1235.30" y2="2210.34"/><line x1="888.00" y1="2175.91" x2="1235.30" y2="2175.91"/><line x1="888.00" y1="2141.48" x2="1235.30" y2="2141.48"/><line x1="888.00" y1="2107.05" x2="1235.30" y2="2107.05"/><line x1="888.00" y1="2072.62" x2="1235.30" y2="2072.62"/><line x1="888.00" y1="2038.19" x2="1235.30" y2="2038.19"/><line x1="888.00" y1="2003.76" x2="1235.30" y2="2003.76"/><line x1="888.00" y1="1969.33" x2="1235.30" y2="1969.33"/></g>
<rect x="888.00" y="1934.90" width="347.30" height="344.30" fill="none" stroke="#231f20" stroke-width="1.80"/>
<path d="M888.30,2225.00 C891.40,2224.15 897.72,2222.65 906.90,2219.90 C916.08,2217.15 931.25,2212.22 943.40,2208.50 C955.55,2204.78 967.65,2201.60 979.80,2197.60 C991.95,2193.60 1007.12,2188.15 1016.30,2184.50 C1025.48,2180.85 1025.70,2179.80 1034.90,2175.70 C1044.10,2171.60 1059.35,2165.67 1071.50,2159.90 C1083.65,2154.13 1095.58,2147.77 1107.80,2141.10 C1120.02,2134.43 1132.68,2127.20 1144.80,2119.90 C1156.92,2112.60 1168.35,2105.33 1180.50,2097.30 C1192.65,2089.27 1208.62,2078.20 1217.70,2071.70 C1226.78,2065.20 1232.12,2060.53 1235.00,2058.30" fill="none" stroke="#231f20" stroke-width="4.10" stroke-linejoin="round" />
<text x="884.0" y="2282.2" font-size="15.50" text-anchor="end" fill="#231f20" >0</text>
<text x="884.0" y="2215.5" font-size="15.50" text-anchor="end" fill="#231f20" >0.2</text>
<text x="884.0" y="2146.7" font-size="15.50" text-anchor="end" fill="#231f20" >0.4</text>
<text x="884.0" y="2077.8" font-size="15.50" text-anchor="end" fill="#231f20" >0.6</text>
<text x="884.0" y="2009.0" font-size="15.50" text-anchor="end" fill="#231f20" >0.8</text>
<text x="884.0" y="1946.5" font-size="15.50" text-anchor="end" fill="#231f20" >1.0</text>
<text x="888.0" y="2296.2" font-size="15.50" text-anchor="middle" fill="#231f20" >−40</text>
<text x="961.1" y="2296.2" font-size="15.50" text-anchor="middle" fill="#231f20" >0</text>
<text x="1052.5" y="2296.2" font-size="15.50" text-anchor="middle" fill="#231f20" >50</text>
<text x="1143.9" y="2296.2" font-size="15.50" text-anchor="middle" fill="#231f20" >100</text>
<text x="1235.3" y="2296.2" font-size="15.50" text-anchor="middle" fill="#231f20" >150</text>
<text x="1061.4" y="2325.0" font-size="20.00" text-anchor="middle" fill="#231f20" >T<tspan font-size="14.40">C</tspan>  (°C)</text>
<g transform="translate(846.00,2103.60) rotate(-90)">
<text x="0.0" y="0.0" font-size="20.00" text-anchor="middle" fill="#231f20" >R<tspan font-size="14.40">DS (ON)</tspan> (mΩ)</text>
</g>
<text x="1410.8" y="1875.5" font-size="24.00" font-weight="bold" textLength="480.7" lengthAdjust="spacingAndGlyphs" fill="#231f20" >Capacitance-V<tspan font-size="17.28">DS</tspan> Characteristics (Typical)</text>
<text x="1749.5" y="1906.7" font-size="19.50" textLength="67.5" lengthAdjust="spacingAndGlyphs" fill="#231f20" >V<tspan font-size="14.04">GS</tspan>=0V</text>
<text x="1749.5" y="1927.7" font-size="19.50" textLength="66.0" lengthAdjust="spacingAndGlyphs" fill="#231f20" >f=1MHz</text>
<path d="M1748.8 1893 Q1738.5 1910 1748.8 1927.5" fill="none" stroke="#231f20" stroke-width="1.1"/>
<path d="M1821 1893 Q1831 1910 1821 1927.5" fill="none" stroke="#231f20" stroke-width="1.1"/>
<g stroke="#231f20" stroke-width="1.20"><line x1="1515.63" y1="1933.20" x2="1515.63" y2="2277.70"/><line x1="1550.26" y1="1933.20" x2="1550.26" y2="2277.70"/><line x1="1584.89" y1="1933.20" x2="1584.89" y2="2277.70"/><line x1="1619.52" y1="1933.20" x2="1619.52" y2="2277.70"/><line x1="1654.15" y1="1933.20" x2="1654.15" y2="2277.70"/><line x1="1688.78" y1="1933.20" x2="1688.78" y2="2277.70"/><line x1="1723.41" y1="1933.20" x2="1723.41" y2="2277.70"/><line x1="1758.04" y1="1933.20" x2="1758.04" y2="2277.70"/><line x1="1792.67" y1="1933.20" x2="1792.67" y2="2277.70"/><line x1="1481.00" y1="2262.46" x2="1827.30" y2="2262.46"/><line x1="1481.00" y1="2250.64" x2="1827.30" y2="2250.64"/><line x1="1481.00" y1="2240.98" x2="1827.30" y2="2240.98"/><line x1="1481.00" y1="2232.81" x2="1827.30" y2="2232.81"/><line x1="1481.00" y1="2225.73" x2="1827.30" y2="2225.73"/><line x1="1481.00" y1="2219.49" x2="1827.30" y2="2219.49"/><line x1="1481.00" y1="2213.91" x2="1827.30" y2="2213.91"/><line x1="1481.00" y1="2177.19" x2="1827.30" y2="2177.19"/><line x1="1481.00" y1="2155.71" x2="1827.30" y2="2155.71"/><line x1="1481.00" y1="2140.46" x2="1827.30" y2="2140.46"/><line x1="1481.00" y1="2128.64" x2="1827.30" y2="2128.64"/><line x1="1481.00" y1="2118.98" x2="1827.30" y2="2118.98"/><line x1="1481.00" y1="2110.82" x2="1827.30" y2="2110.82"/><line x1="1481.00" y1="2103.74" x2="1827.30" y2="2103.74"/><line x1="1481.00" y1="2097.50" x2="1827.30" y2="2097.50"/><line x1="1481.00" y1="2091.92" x2="1827.30" y2="2091.92"/><line x1="1481.00" y1="2055.19" x2="1827.30" y2="2055.19"/><line x1="1481.00" y1="2033.71" x2="1827.30" y2="2033.71"/><line x1="1481.00" y1="2018.47" x2="1827.30" y2="2018.47"/><line x1="1481.00" y1="2006.65" x2="1827.30" y2="2006.65"/><line x1="1481.00" y1="1996.99" x2="1827.30" y2="1996.99"/><line x1="1481.00" y1="1988.82" x2="1827.30" y2="1988.82"/><line x1="1481.00" y1="1981.75" x2="1827.30" y2="1981.75"/><line x1="1481.00" y1="1975.51" x2="1827.30" y2="1975.51"/><line x1="1481.00" y1="1969.92" x2="1827.30" y2="1969.92"/></g>
<rect x="1751.4" y="2030.5" width="33.9" height="15.4" fill="#fff"/>
<rect x="1754.5" y="2110.7" width="34.5" height="15.4" fill="#fff"/>
<rect x="1740.6" y="2238.3" width="30.8" height="14.8" fill="#fff"/>
<rect x="1481.00" y="1933.20" width="346.30" height="344.50" fill="none" stroke="#231f20" stroke-width="1.80"/>
<path d="M1480.76,1980.26 C1482.72,1982.57 1487.96,1990.43 1492.48,1994.13 C1497.00,1997.83 1502.75,2000.30 1507.89,2002.45 C1513.03,2004.61 1515.60,2005.48 1523.30,2007.08 C1531.01,2008.67 1543.86,2010.47 1554.13,2012.01 C1564.41,2013.55 1574.68,2014.99 1584.96,2016.33 C1595.23,2017.66 1605.51,2018.89 1615.78,2020.02 C1626.06,2021.15 1631.20,2022.39 1646.61,2023.11 C1662.02,2023.83 1687.71,2024.03 1708.26,2024.34 C1728.81,2024.65 1750.08,2024.60 1769.91,2024.96 C1789.75,2025.32 1817.69,2026.24 1827.25,2026.50" fill="none" stroke="#231f20" stroke-width="4.10" stroke-linejoin="round" />
<path d="M1480.76,1967.00 C1482.20,1969.98 1485.90,1979.08 1489.40,1984.88 C1492.89,1990.69 1496.07,1995.67 1501.73,2001.84 C1507.38,2008.00 1514.57,2015.97 1523.30,2021.87 C1532.04,2027.78 1543.86,2032.51 1554.13,2037.29 C1564.41,2042.07 1574.68,2046.54 1584.96,2050.54 C1595.23,2054.55 1607.56,2058.15 1615.78,2061.33 C1624.00,2064.52 1629.14,2066.37 1634.28,2069.65 C1639.42,2072.94 1641.99,2078.39 1646.61,2081.06 C1651.23,2083.73 1651.75,2083.83 1662.02,2085.68 C1672.30,2087.53 1690.28,2089.59 1708.26,2092.16 C1726.24,2094.73 1750.08,2098.84 1769.91,2101.10 C1789.75,2103.36 1817.69,2104.95 1827.25,2105.72" fill="none" stroke="#231f20" stroke-width="4.10" stroke-linejoin="round" />
<path d="M1480.76,2021.87 C1481.95,2023.00 1484.87,2024.44 1487.85,2028.66 C1490.83,2032.87 1493.76,2040.47 1498.64,2047.15 C1503.52,2053.83 1510.46,2062.15 1517.14,2068.73 C1523.82,2075.31 1529.98,2080.14 1538.72,2086.61 C1547.45,2093.08 1559.27,2100.53 1569.54,2107.57 C1579.82,2114.61 1591.64,2122.57 1600.37,2128.84 C1609.10,2135.11 1616.04,2139.63 1621.95,2145.18 C1627.86,2150.73 1632.63,2156.48 1635.82,2162.13 C1639.01,2167.78 1639.78,2172.15 1641.06,2179.09 C1642.34,2186.02 1641.99,2196.81 1643.53,2203.75 C1645.07,2210.68 1646.97,2215.98 1650.31,2220.70 C1653.65,2225.43 1658.01,2228.77 1663.56,2232.11 C1669.11,2235.45 1673.58,2237.50 1683.60,2240.74 C1693.62,2243.98 1709.29,2248.19 1723.67,2251.53 C1738.06,2254.87 1752.65,2257.95 1769.91,2260.78 C1787.18,2263.60 1817.69,2267.20 1827.25,2268.48" fill="none" stroke="#231f20" stroke-width="4.10" stroke-linejoin="round" />
<text x="1477.0" y="1938.7" font-size="15.50" text-anchor="end" fill="#231f20" >2000</text>
<text x="1477.0" y="1975.1" font-size="15.50" text-anchor="end" fill="#231f20" >1000</text>
<text x="1477.0" y="2011.8" font-size="15.50" text-anchor="end" fill="#231f20" >500</text>
<text x="1477.0" y="2097.1" font-size="15.50" text-anchor="end" fill="#231f20" >100</text>
<text x="1477.0" y="2133.8" font-size="15.50" text-anchor="end" fill="#231f20" >50</text>
<text x="1477.0" y="2219.1" font-size="15.50" text-anchor="end" fill="#231f20" >10</text>
<text x="1477.0" y="2255.8" font-size="15.50" text-anchor="end" fill="#231f20" >5</text>
<text x="1477.0" y="2281.4" font-size="15.50" text-anchor="end" fill="#231f20" >3</text>
<text x="1481.0" y="2294.7" font-size="15.50" text-anchor="middle" fill="#231f20" >0</text>
<text x="1550.3" y="2294.7" font-size="15.50" text-anchor="middle" fill="#231f20" >10</text>
<text x="1619.5" y="2294.7" font-size="15.50" text-anchor="middle" fill="#231f20" >20</text>
<text x="1688.8" y="2294.7" font-size="15.50" text-anchor="middle" fill="#231f20" >30</text>
<text x="1758.0" y="2294.7" font-size="15.50" text-anchor="middle" fill="#231f20" >40</text>
<text x="1827.3" y="2294.7" font-size="15.50" text-anchor="middle" fill="#231f20" >50</text>
<text x="1654.3" y="2315.7" font-size="20.00" text-anchor="middle" fill="#231f20" >V<tspan font-size="14.40">DS</tspan>  (V)</text>
<g transform="translate(1436.00,2099.00) rotate(-90)">
<text x="0.0" y="0.0" font-size="20.00" text-anchor="middle" fill="#231f20" >Capacitance  (pF)</text>
</g>
<text x="1766.8" y="2042.2" font-size="14.00" text-anchor="middle" fill="#231f20" >Ciss</text>
<text x="1771.5" y="2121.8" font-size="14.00" text-anchor="middle" fill="#231f20" >Coss</text>
<text x="1756.0" y="2249.4" font-size="14.00" text-anchor="middle" fill="#231f20" >Crss</text>
<text x="287.3" y="2366.4" font-size="24.00" font-weight="bold" textLength="368.7" lengthAdjust="spacingAndGlyphs" fill="#231f20" >I<tspan font-size="17.28">DR</tspan>-V<tspan font-size="17.28">SD</tspan> Characteristics (Typical)</text>
<g stroke="#231f20" stroke-width="1.20"><line x1="317.43" y1="2409.90" x2="317.43" y2="2752.50"/><line x1="340.45" y1="2409.90" x2="340.45" y2="2752.50"/><line x1="363.48" y1="2409.90" x2="363.48" y2="2752.50"/><line x1="386.51" y1="2409.90" x2="386.51" y2="2752.50"/><line x1="409.53" y1="2409.90" x2="409.53" y2="2752.50"/><line x1="432.56" y1="2409.90" x2="432.56" y2="2752.50"/><line x1="455.59" y1="2409.90" x2="455.59" y2="2752.50"/><line x1="478.61" y1="2409.90" x2="478.61" y2="2752.50"/><line x1="501.64" y1="2409.90" x2="501.64" y2="2752.50"/><line x1="524.67" y1="2409.90" x2="524.67" y2="2752.50"/><line x1="547.69" y1="2409.90" x2="547.69" y2="2752.50"/><line x1="570.72" y1="2409.90" x2="570.72" y2="2752.50"/><line x1="593.75" y1="2409.90" x2="593.75" y2="2752.50"/><line x1="616.77" y1="2409.90" x2="616.77" y2="2752.50"/><line x1="294.40" y1="2703.56" x2="639.80" y2="2703.56"/><line x1="294.40" y1="2654.61" x2="639.80" y2="2654.61"/><line x1="294.40" y1="2605.67" x2="639.80" y2="2605.67"/><line x1="294.40" y1="2556.73" x2="639.80" y2="2556.73"/><line x1="294.40" y1="2507.79" x2="639.80" y2="2507.79"/><line x1="294.40" y1="2458.84" x2="639.80" y2="2458.84"/></g>
<rect x="294.40" y="2409.90" width="345.40" height="342.60" fill="none" stroke="#231f20" stroke-width="1.80"/>
<path d="M294.60,2752.50 C301.67,2747.92 322.77,2734.08 337.00,2725.00 C351.23,2715.92 368.07,2705.63 380.00,2698.00 C391.93,2690.37 399.88,2685.45 408.60,2679.20 C417.32,2672.95 424.40,2667.57 432.30,2660.50 C440.20,2653.43 450.42,2644.03 456.00,2636.80 C461.58,2629.57 463.50,2622.28 465.80,2617.10 C468.10,2611.92 467.67,2611.95 469.80,2605.70 C471.93,2599.45 476.38,2587.82 478.60,2579.60 C480.82,2571.38 480.22,2568.50 483.10,2556.40 C485.98,2544.30 492.03,2523.37 495.90,2507.00 C499.77,2490.63 502.85,2474.38 506.30,2458.20 C509.75,2442.02 514.88,2417.95 516.60,2409.90" fill="none" stroke="#231f20" stroke-width="4.10" stroke-linejoin="round" />
<path d="M409.60,2751.60 C414.53,2751.53 432.62,2752.08 439.20,2751.20 C445.78,2750.32 446.30,2748.60 449.10,2746.30 C451.90,2744.00 453.55,2742.00 456.00,2737.40 C458.45,2732.80 461.67,2724.37 463.80,2718.70 C465.93,2713.03 466.98,2710.15 468.80,2703.40 C470.62,2696.65 472.90,2686.33 474.70,2678.20 C476.50,2670.07 477.80,2662.82 479.60,2654.60 C481.40,2646.38 483.52,2637.05 485.50,2628.90 C487.48,2620.75 489.10,2617.78 491.50,2605.70 C493.90,2593.62 497.03,2572.85 499.90,2556.40 C502.77,2539.95 505.83,2523.37 508.70,2507.00 C511.57,2490.63 514.63,2474.38 517.10,2458.20 C519.57,2442.02 522.43,2417.95 523.50,2409.90" fill="none" stroke="#231f20" stroke-width="4.10" stroke-linejoin="round" />
<text x="290.4" y="2754.4" font-size="15.50" text-anchor="end" fill="#231f20" >0</text>
<text x="290.4" y="2708.8" font-size="15.50" text-anchor="end" fill="#231f20" >1</text>
<text x="290.4" y="2659.8" font-size="15.50" text-anchor="end" fill="#231f20" >2</text>
<text x="290.4" y="2610.9" font-size="15.50" text-anchor="end" fill="#231f20" >3</text>
<text x="290.4" y="2561.9" font-size="15.50" text-anchor="end" fill="#231f20" >4</text>
<text x="290.4" y="2513.0" font-size="15.50" text-anchor="end" fill="#231f20" >5</text>
<text x="290.4" y="2464.0" font-size="15.50" text-anchor="end" fill="#231f20" >6</text>
<text x="290.4" y="2418.1" font-size="15.50" text-anchor="end" fill="#231f20" >7</text>
<text x="294.4" y="2769.5" font-size="15.50" text-anchor="middle" fill="#231f20" >0</text>
<text x="409.5" y="2769.5" font-size="15.50" text-anchor="middle" fill="#231f20" >0.5</text>
<text x="524.7" y="2769.5" font-size="15.50" text-anchor="middle" fill="#231f20" >1.0</text>
<text x="639.8" y="2769.5" font-size="15.50" text-anchor="middle" fill="#231f20" >1.5</text>
<text x="467.2" y="2789.0" font-size="20.00" text-anchor="middle" fill="#231f20" >V<tspan font-size="14.40">SD</tspan>  (V)</text>
<g transform="translate(265.00,2578.60) rotate(-90)">
<text x="0.0" y="0.0" font-size="20.00" text-anchor="middle" fill="#231f20" >I<tspan font-size="14.40">DR</tspan>  (A)</text>
</g>
<g transform="translate(407.50,2669.00) rotate(-42.00)">
<text x="0.0" y="0.0" font-size="14.50" text-anchor="middle" fill="#231f20" stroke="#fff" stroke-width="4" paint-order="stroke" stroke-linejoin="round">5,10V</text>
</g>
<g transform="translate(460.50,2696.00) rotate(-70.00)">
<text x="0.0" y="0.0" font-size="14.50" text-anchor="middle" fill="#231f20" stroke="#fff" stroke-width="4" paint-order="stroke" stroke-linejoin="round">V<tspan font-size="10.44">GS</tspan>=0V</text>
</g>
<text x="900.3" y="2366.0" font-size="24.00" font-weight="bold" textLength="311.0" lengthAdjust="spacingAndGlyphs" fill="#231f20" >Safe Operating Area (SOA)</text>
<text x="1146.5" y="2405.0" font-size="19.50" textLength="86.3" lengthAdjust="spacingAndGlyphs" fill="#231f20" >(T<tspan font-size="14.04">C</tspan>=25°C)</text>
<g stroke="#231f20" stroke-width="1.20"><line x1="910.85" y1="2410.70" x2="910.85" y2="2755.30"/><line x1="925.78" y1="2410.70" x2="925.78" y2="2755.30"/><line x1="937.98" y1="2410.70" x2="937.98" y2="2755.30"/><line x1="948.29" y1="2410.70" x2="948.29" y2="2755.30"/><line x1="957.23" y1="2410.70" x2="957.23" y2="2755.30"/><line x1="965.11" y1="2410.70" x2="965.11" y2="2755.30"/><line x1="972.16" y1="2410.70" x2="972.16" y2="2755.30"/><line x1="1018.53" y1="2410.70" x2="1018.53" y2="2755.30"/><line x1="1045.66" y1="2410.70" x2="1045.66" y2="2755.30"/><line x1="1064.91" y1="2410.70" x2="1064.91" y2="2755.30"/><line x1="1079.84" y1="2410.70" x2="1079.84" y2="2755.30"/><line x1="1092.04" y1="2410.70" x2="1092.04" y2="2755.30"/><line x1="1102.35" y1="2410.70" x2="1102.35" y2="2755.30"/><line x1="1111.29" y1="2410.70" x2="1111.29" y2="2755.30"/><line x1="1119.17" y1="2410.70" x2="1119.17" y2="2755.30"/><line x1="1126.22" y1="2410.70" x2="1126.22" y2="2755.30"/><line x1="1172.59" y1="2410.70" x2="1172.59" y2="2755.30"/><line x1="1199.72" y1="2410.70" x2="1199.72" y2="2755.30"/><line x1="1218.97" y1="2410.70" x2="1218.97" y2="2755.30"/><line x1="891.60" y1="2744.81" x2="1233.90" y2="2744.81"/><line x1="891.60" y1="2735.95" x2="1233.90" y2="2735.95"/><line x1="891.60" y1="2728.27" x2="1233.90" y2="2728.27"/><line x1="891.60" y1="2721.49" x2="1233.90" y2="2721.49"/><line x1="891.60" y1="2715.43" x2="1233.90" y2="2715.43"/><line x1="891.60" y1="2675.57" x2="1233.90" y2="2675.57"/><line x1="891.60" y1="2652.25" x2="1233.90" y2="2652.25"/><line x1="891.60" y1="2635.70" x2="1233.90" y2="2635.70"/><line x1="891.60" y1="2622.87" x2="1233.90" y2="2622.87"/><line x1="891.60" y1="2612.38" x2="1233.90" y2="2612.38"/><line x1="891.60" y1="2603.51" x2="1233.90" y2="2603.51"/><line x1="891.60" y1="2595.83" x2="1233.90" y2="2595.83"/><line x1="891.60" y1="2589.06" x2="1233.90" y2="2589.06"/><line x1="891.60" y1="2583.00" x2="1233.90" y2="2583.00"/><line x1="891.60" y1="2543.13" x2="1233.90" y2="2543.13"/><line x1="891.60" y1="2519.81" x2="1233.90" y2="2519.81"/><line x1="891.60" y1="2503.27" x2="1233.90" y2="2503.27"/><line x1="891.60" y1="2490.43" x2="1233.90" y2="2490.43"/><line x1="891.60" y1="2479.95" x2="1233.90" y2="2479.95"/><line x1="891.60" y1="2471.08" x2="1233.90" y2="2471.08"/><line x1="891.60" y1="2463.40" x2="1233.90" y2="2463.40"/><line x1="891.60" y1="2456.63" x2="1233.90" y2="2456.63"/><line x1="891.60" y1="2450.57" x2="1233.90" y2="2450.57"/></g>
<rect x="942.1" y="2410.7" width="99.9" height="15.8" fill="#fff"/>
<rect x="896.3" y="2538.4" width="106.8" height="15.3" fill="#fff"/>
<rect x="891.60" y="2410.70" width="342.30" height="344.60" fill="none" stroke="#231f20" stroke-width="1.80"/>
<path d="M928.20,2428.23 L1078.02,2428.23 L1175.12,2510.62 L1175.12,2755.33" fill="none" stroke="#231f20" stroke-width="4.20" stroke-linejoin="round" />
<path d="M989.24,2428.23 L1173.73,2586.92" fill="none" stroke="#231f20" stroke-width="4.20" stroke-linejoin="round" />
<path d="M912.94,2439.32 L1173.73,2664.60" fill="none" stroke="#231f20" stroke-width="4.20" stroke-linejoin="round" />
<path d="M891.58,2428.23 L928.20,2428.23" fill="none" stroke="#231f20" stroke-width="4.20" stroke-linejoin="round" stroke-dasharray="7 5"/>
<path d="M891.58,2459.85 L928.20,2428.23" fill="none" stroke="#231f20" stroke-width="4.20" stroke-linejoin="round" stroke-dasharray="7 5"/>
<path d="M906.80,2449.30 L933.50,2538.10" fill="none" stroke="#231f20" stroke-width="1.10" stroke-linejoin="round" />
<text x="887.6" y="2416.9" font-size="15.50" text-anchor="end" fill="#231f20" >20</text>
<text x="887.6" y="2455.8" font-size="15.50" text-anchor="end" fill="#231f20" >10</text>
<text x="887.6" y="2495.6" font-size="15.50" text-anchor="end" fill="#231f20" >5</text>
<text x="887.6" y="2588.2" font-size="15.50" text-anchor="end" fill="#231f20" >1</text>
<text x="887.6" y="2628.1" font-size="15.50" text-anchor="end" fill="#231f20" >0.5</text>
<text x="887.6" y="2720.6" font-size="15.50" text-anchor="end" fill="#231f20" >0.1</text>
<text x="887.6" y="2760.5" font-size="15.50" text-anchor="end" fill="#231f20" >0.05</text>
<text x="891.6" y="2772.3" font-size="15.50" text-anchor="middle" fill="#231f20" >3</text>
<text x="925.8" y="2772.3" font-size="15.50" text-anchor="middle" fill="#231f20" >5</text>
<text x="972.2" y="2772.3" font-size="15.50" text-anchor="middle" fill="#231f20" >10</text>
<text x="1079.8" y="2772.3" font-size="15.50" text-anchor="middle" fill="#231f20" >50</text>
<text x="1126.2" y="2772.3" font-size="15.50" text-anchor="middle" fill="#231f20" >100</text>
<text x="1233.9" y="2772.3" font-size="15.50" text-anchor="middle" fill="#231f20" >500</text>
<text x="1062.8" y="2794.6" font-size="20.00" text-anchor="middle" fill="#231f20" >V<tspan font-size="14.40">DS</tspan>  (V)</text>
<g transform="translate(849.00,2577.20) rotate(-90)">
<text x="0.0" y="0.0" font-size="20.00" text-anchor="middle" fill="#231f20" >I<tspan font-size="14.40">D</tspan>  (A)</text>
</g>
<text x="944.0" y="2422.5" font-size="14.00" textLength="95.5" lengthAdjust="spacingAndGlyphs" fill="#231f20" >ID  (pulse)  max</text>
<text x="897.5" y="2549.2" font-size="14.00" textLength="105.5" lengthAdjust="spacingAndGlyphs" fill="#231f20" >R<tspan font-size="10.08">DS (ON)</tspan> LIMITED</text>
<g transform="translate(1090.50,2455.14) rotate(40.00)">
<text x="0.0" y="0.0" font-size="14.00" text-anchor="middle" fill="#231f20" stroke="#fff" stroke-width="4" paint-order="stroke" stroke-linejoin="round">100μs</text>
</g>
<g transform="translate(1062.76,2474.56) rotate(40.00)">
<text x="0.0" y="0.0" font-size="14.00" text-anchor="middle" fill="#231f20" stroke="#fff" stroke-width="4" paint-order="stroke" stroke-linejoin="round">1ms</text>
</g>
<g transform="translate(1040.56,2535.59) rotate(40.00)">
<text x="0.0" y="0.0" font-size="14.00" text-anchor="middle" fill="#231f20" stroke="#fff" stroke-width="4" paint-order="stroke" stroke-linejoin="round">10ms  (1shot)</text>
</g>
<text x="1531.1" y="2366.0" font-size="24.00" font-weight="bold" textLength="241.9" lengthAdjust="spacingAndGlyphs" fill="#231f20" >P<tspan font-size="17.28">T</tspan>-T<tspan font-size="17.28">a</tspan> Characteristics</text>
<g stroke="#231f20" stroke-width="1.20"><line x1="1536.13" y1="2407.80" x2="1536.13" y2="2753.10"/><line x1="1593.07" y1="2407.80" x2="1593.07" y2="2753.10"/><line x1="1650.00" y1="2407.80" x2="1650.00" y2="2753.10"/><line x1="1479.20" y1="2709.94" x2="1820.80" y2="2709.94"/><line x1="1479.20" y1="2666.78" x2="1820.80" y2="2666.78"/><line x1="1479.20" y1="2623.61" x2="1820.80" y2="2623.61"/><line x1="1479.20" y1="2580.45" x2="1820.80" y2="2580.45"/><line x1="1479.20" y1="2537.29" x2="1820.80" y2="2537.29"/><line x1="1479.20" y1="2494.12" x2="1820.80" y2="2494.12"/><line x1="1479.20" y1="2450.96" x2="1820.80" y2="2450.96"/></g>
<rect x="1650.3" y="2409.7" width="169.5" height="83.8" fill="#fff"/>
<rect x="1650.3" y="2409.7" width="169.5" height="40.1" fill="#fff"/>
<line x1="1649.69" y1="2409.67" x2="1649.69" y2="2450.97" stroke="#231f20" stroke-width="1.20" />
<line x1="1479.22" y1="2450.97" x2="1649.69" y2="2450.97" stroke="#231f20" stroke-width="1.20" />
<line x1="1706.72" y1="2494.13" x2="1706.72" y2="2753.07" stroke="#231f20" stroke-width="1.20" />
<line x1="1763.13" y1="2494.13" x2="1763.13" y2="2753.07" stroke="#231f20" stroke-width="1.20" />
<rect x="1483.2" y="2691.4" width="104.8" height="16.0" fill="#fff"/>
<rect x="1479.20" y="2407.80" width="341.60" height="345.30" fill="none" stroke="#231f20" stroke-width="1.80"/>
<path d="M1479.22,2450.97 L1535.64,2450.97 L1820.78,2753.07" fill="none" stroke="#231f20" stroke-width="4.00" stroke-linejoin="round" />
<path d="M1479.22,2709.30 L1535.64,2709.30 L1820.78,2753.07" fill="none" stroke="#231f20" stroke-width="4.00" stroke-linejoin="round" />
<text x="1475.2" y="2754.6" font-size="15.50" text-anchor="end" fill="#231f20" >0</text>
<text x="1475.2" y="2715.1" font-size="15.50" text-anchor="end" fill="#231f20" >5</text>
<text x="1475.2" y="2672.0" font-size="15.50" text-anchor="end" fill="#231f20" >10</text>
<text x="1475.2" y="2628.8" font-size="15.50" text-anchor="end" fill="#231f20" >15</text>
<text x="1475.2" y="2585.6" font-size="15.50" text-anchor="end" fill="#231f20" >20</text>
<text x="1475.2" y="2542.5" font-size="15.50" text-anchor="end" fill="#231f20" >25</text>
<text x="1475.2" y="2499.3" font-size="15.50" text-anchor="end" fill="#231f20" >30</text>
<text x="1475.2" y="2456.2" font-size="15.50" text-anchor="end" fill="#231f20" >35</text>
<text x="1475.2" y="2415.5" font-size="15.50" text-anchor="end" fill="#231f20" >40</text>
<text x="1479.2" y="2770.1" font-size="15.50" text-anchor="middle" fill="#231f20" >0</text>
<text x="1593.1" y="2770.1" font-size="15.50" text-anchor="middle" fill="#231f20" >50</text>
<text x="1706.9" y="2770.1" font-size="15.50" text-anchor="middle" fill="#231f20" >100</text>
<text x="1820.8" y="2770.1" font-size="15.50" text-anchor="middle" fill="#231f20" >150</text>
<text x="1649.7" y="2792.6" font-size="20.00" text-anchor="middle" fill="#231f20" >T<tspan font-size="14.40">a</tspan>  (°C)</text>
<g transform="translate(1447.00,2577.40) rotate(-90)">
<text x="0.0" y="0.0" font-size="20.00" text-anchor="middle" fill="#231f20" >P<tspan font-size="14.40">T</tspan>  (W)</text>
</g>
<text x="1671.9" y="2439.3" font-size="13.50" fill="#231f20" >With Silicone Grease</text>
<text x="1671.9" y="2455.6" font-size="13.50" fill="#231f20" >Natural Cooling</text>
<text x="1671.9" y="2471.9" font-size="13.50" fill="#231f20" >All Circuits Operating</text>
<text x="1486.3" y="2704.4" font-size="13.50" fill="#231f20" >Without Heatsink</text>
<g transform="translate(1662.49,2576.78) rotate(46.50)">
<text x="0.0" y="0.0" font-size="13.50" text-anchor="middle" fill="#231f20" stroke="#fff" stroke-width="4" paint-order="stroke" stroke-linejoin="round">With Infinite Heatsink</text>
</g></svg></body></html>
